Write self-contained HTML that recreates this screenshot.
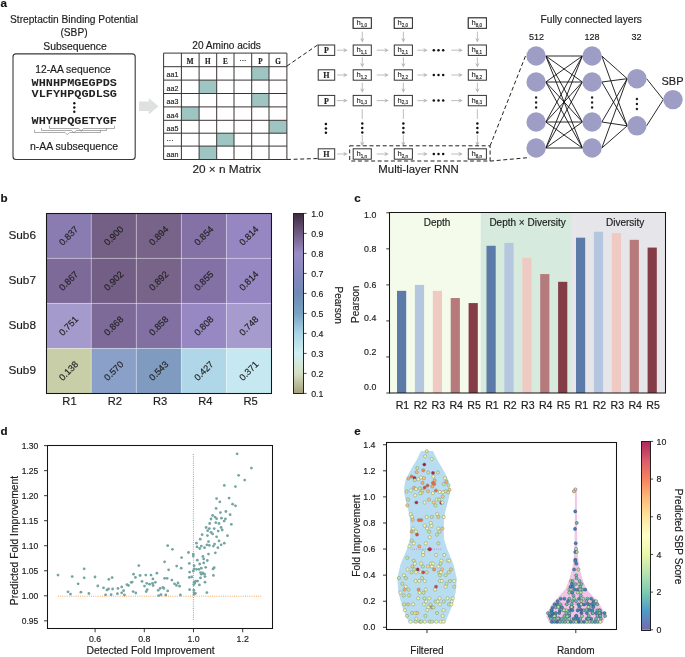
<!DOCTYPE html>
<html><head><meta charset="utf-8"><style>
html,body{margin:0;padding:0;background:#fff;}
svg{display:block;will-change:transform;}
text{stroke:#222;stroke-width:0.16px;}

</style></head><body>
<svg width="685" height="657" viewBox="0 0 685 657">
<rect x="0" y="0" width="685" height="657" fill="#ffffff"/>
<text x="0.60" y="6.80" font-family="Liberation Sans, sans-serif" font-size="11.6" text-anchor="start" fill="#111" font-weight="bold" >a</text>
<text x="0.60" y="201.60" font-family="Liberation Sans, sans-serif" font-size="11.6" text-anchor="start" fill="#111" font-weight="bold" >b</text>
<text x="354.20" y="201.80" font-family="Liberation Sans, sans-serif" font-size="11.6" text-anchor="start" fill="#111" font-weight="bold" >c</text>
<text x="0.60" y="434.90" font-family="Liberation Sans, sans-serif" font-size="11.6" text-anchor="start" fill="#111" font-weight="bold" >d</text>
<text x="354.20" y="435.10" font-family="Liberation Sans, sans-serif" font-size="11.6" text-anchor="start" fill="#111" font-weight="bold" >e</text>
<text x="74.00" y="22.80" font-family="Liberation Sans, sans-serif" font-size="10.2" text-anchor="middle" fill="#1a1a1a" font-weight="normal" >Streptactin Binding Potential</text>
<text x="74.00" y="35.60" font-family="Liberation Sans, sans-serif" font-size="10.2" text-anchor="middle" fill="#1a1a1a" font-weight="normal" >(SBP)</text>
<text x="75.00" y="49.70" font-family="Liberation Sans, sans-serif" font-size="10.4" text-anchor="middle" fill="#1a1a1a" font-weight="normal" >Subsequence</text>
<rect x="13" y="53.9" width="122.2" height="105.6" rx="3" ry="3" fill="none" stroke="#3a3a3a" stroke-width="1.1"/>
<text x="73.00" y="72.50" font-family="Liberation Sans, sans-serif" font-size="10.3" text-anchor="middle" fill="#1a1a1a" font-weight="normal" >12-AA sequence</text>
<text x="74.3" y="85.9" font-family="Liberation Mono, monospace" font-size="11.6" font-weight="bold" text-anchor="middle" fill="#222" style="stroke:none" textLength="85.4" lengthAdjust="spacingAndGlyphs">WHNHPMGEGPDS</text>
<text x="74.3" y="96.5" font-family="Liberation Mono, monospace" font-size="11.6" font-weight="bold" text-anchor="middle" fill="#222" style="stroke:none" textLength="85.4" lengthAdjust="spacingAndGlyphs">VLFYHPQGDLSG</text>
<text x="74.3" y="123.8" font-family="Liberation Mono, monospace" font-size="11.6" font-weight="bold" text-anchor="middle" fill="#222" style="stroke:none" textLength="85.4" lengthAdjust="spacingAndGlyphs">WHYHPQGETYGF</text>
<circle cx="74.30" cy="103.30" r="1.20" fill="#111" stroke="none" stroke-width="0" />
<circle cx="74.30" cy="107.50" r="1.20" fill="#111" stroke="none" stroke-width="0" />
<circle cx="74.30" cy="111.70" r="1.20" fill="#111" stroke="none" stroke-width="0" />
<path d="M34.5,129.8 V132.5 H65.1 L67.3,134.8 L69.5,132.5 H100.5 V129.8" fill="none" stroke="#8a8a8a" stroke-width="0.7"/>
<path d="M41.5,128.0 V130.5 H71.7 L73.9,133.1 L76.10000000000001,130.5 H106.5 V128.0" fill="none" stroke="#8a8a8a" stroke-width="0.7"/>
<path d="M49.5,125.8 V128.5 H79.0 L81.2,131.3 L83.4,128.5 H114.5 V125.8" fill="none" stroke="#8a8a8a" stroke-width="0.7"/>
<text x="74.00" y="149.50" font-family="Liberation Sans, sans-serif" font-size="10.5" text-anchor="middle" fill="#1a1a1a" font-weight="normal" >n-AA subsequence</text>
<polygon points="139,101.4 148.8,101.4 148.8,98.0 158.5,106.2 148.8,114.4 148.8,110.9 139,110.9" fill="#dfe1e0"/>
<text x="226.60" y="48.60" font-family="Liberation Sans, sans-serif" font-size="10.1" text-anchor="middle" fill="#1a1a1a" font-weight="normal" >20 Amino acids</text>
<rect x="251.70" y="66.70" width="17.30" height="13.40" fill="#9ec5c2" stroke="none" stroke-width="1" />
<rect x="199.10" y="80.10" width="17.60" height="13.40" fill="#9ec5c2" stroke="none" stroke-width="1" />
<rect x="251.70" y="93.50" width="17.30" height="13.40" fill="#9ec5c2" stroke="none" stroke-width="1" />
<rect x="181.40" y="106.90" width="17.70" height="13.40" fill="#9ec5c2" stroke="none" stroke-width="1" />
<rect x="269.00" y="120.30" width="17.90" height="12.90" fill="#9ec5c2" stroke="none" stroke-width="1" />
<rect x="216.70" y="133.20" width="17.30" height="12.90" fill="#9ec5c2" stroke="none" stroke-width="1" />
<rect x="199.10" y="146.10" width="17.60" height="13.40" fill="#9ec5c2" stroke="none" stroke-width="1" />
<line x1="163.60" y1="53.10" x2="163.60" y2="159.50" stroke="#3b3434" stroke-width="1.0" />
<line x1="181.40" y1="53.10" x2="181.40" y2="159.50" stroke="#3b3434" stroke-width="1.0" />
<line x1="199.10" y1="53.10" x2="199.10" y2="159.50" stroke="#3b3434" stroke-width="1.0" />
<line x1="216.70" y1="53.10" x2="216.70" y2="159.50" stroke="#3b3434" stroke-width="1.0" />
<line x1="234.00" y1="53.10" x2="234.00" y2="159.50" stroke="#3b3434" stroke-width="1.0" />
<line x1="251.70" y1="53.10" x2="251.70" y2="159.50" stroke="#3b3434" stroke-width="1.0" />
<line x1="269.00" y1="53.10" x2="269.00" y2="159.50" stroke="#3b3434" stroke-width="1.0" />
<line x1="286.90" y1="53.10" x2="286.90" y2="159.50" stroke="#3b3434" stroke-width="1.0" />
<line x1="163.60" y1="53.10" x2="286.90" y2="53.10" stroke="#3b3434" stroke-width="1.0" />
<line x1="163.60" y1="66.70" x2="286.90" y2="66.70" stroke="#3b3434" stroke-width="1.0" />
<line x1="163.60" y1="80.10" x2="286.90" y2="80.10" stroke="#3b3434" stroke-width="1.0" />
<line x1="163.60" y1="93.50" x2="286.90" y2="93.50" stroke="#3b3434" stroke-width="1.0" />
<line x1="163.60" y1="106.90" x2="286.90" y2="106.90" stroke="#3b3434" stroke-width="1.0" />
<line x1="163.60" y1="120.30" x2="286.90" y2="120.30" stroke="#3b3434" stroke-width="1.0" />
<line x1="163.60" y1="133.20" x2="286.90" y2="133.20" stroke="#3b3434" stroke-width="1.0" />
<line x1="163.60" y1="146.10" x2="286.90" y2="146.10" stroke="#3b3434" stroke-width="1.0" />
<line x1="163.60" y1="159.50" x2="286.90" y2="159.50" stroke="#3b3434" stroke-width="1.0" />
<text x="190.25" y="63.6" font-family="Liberation Serif, serif" font-size="7.2" font-weight="bold" text-anchor="middle" fill="#222">M</text>
<text x="207.90" y="63.6" font-family="Liberation Serif, serif" font-size="7.2" font-weight="bold" text-anchor="middle" fill="#222">H</text>
<text x="225.35" y="63.6" font-family="Liberation Serif, serif" font-size="7.2" font-weight="bold" text-anchor="middle" fill="#222">E</text>
<text x="242.85" y="62.60" font-family="Liberation Sans, sans-serif" font-size="7" text-anchor="middle" fill="#333" font-weight="normal" >···</text>
<text x="260.35" y="63.6" font-family="Liberation Serif, serif" font-size="7.2" font-weight="bold" text-anchor="middle" fill="#222">P</text>
<text x="277.95" y="63.6" font-family="Liberation Serif, serif" font-size="7.2" font-weight="bold" text-anchor="middle" fill="#222">G</text>
<text x="166.50" y="77.40" font-family="Liberation Sans, sans-serif" font-size="7.1" text-anchor="start" fill="#222" font-weight="normal" >aa1</text>
<text x="166.50" y="90.80" font-family="Liberation Sans, sans-serif" font-size="7.1" text-anchor="start" fill="#222" font-weight="normal" >aa2</text>
<text x="166.50" y="104.20" font-family="Liberation Sans, sans-serif" font-size="7.1" text-anchor="start" fill="#222" font-weight="normal" >aa3</text>
<text x="166.50" y="117.60" font-family="Liberation Sans, sans-serif" font-size="7.1" text-anchor="start" fill="#222" font-weight="normal" >aa4</text>
<text x="166.50" y="130.50" font-family="Liberation Sans, sans-serif" font-size="7.1" text-anchor="start" fill="#222" font-weight="normal" >aa5</text>
<text x="166.50" y="143.40" font-family="Liberation Sans, sans-serif" font-size="7.1" text-anchor="start" fill="#222" font-weight="normal" >···</text>
<text x="166.50" y="156.80" font-family="Liberation Sans, sans-serif" font-size="7.1" text-anchor="start" fill="#222" font-weight="normal" >aan</text>
<text x="226.70" y="173.40" font-family="Liberation Sans, sans-serif" font-size="11.8" text-anchor="middle" fill="#1a1a1a" font-weight="normal" >20 × n Matrix</text>
<line x1="287.00" y1="66.00" x2="317.50" y2="45.00" stroke="#222" stroke-width="1" stroke-dasharray="4,2.6"/>
<line x1="287.00" y1="159.50" x2="318.50" y2="158.50" stroke="#222" stroke-width="1" stroke-dasharray="4,2.6"/>
<rect x="318.20" y="45.00" width="16.50" height="10.40" fill="white" stroke="#333" stroke-width="1" />
<text x="326.45" y="53.20" font-family="Liberation Serif, serif" font-size="8" font-weight="bold" text-anchor="middle" fill="#222">P</text>
<line x1="337.00" y1="50.20" x2="344.70" y2="50.20" stroke="#b5b5b5" stroke-width="0.9" />
<polygon points="347.7,50.2 343.2,48.0 344.7,50.2 343.2,52.400000000000006" fill="#b5b5b5"/>
<line x1="376.80" y1="50.20" x2="385.80" y2="50.20" stroke="#b5b5b5" stroke-width="0.9" />
<polygon points="388.8,50.2 384.3,48.0 385.8,50.2 384.3,52.400000000000006" fill="#b5b5b5"/>
<line x1="417.40" y1="50.20" x2="424.70" y2="50.20" stroke="#b5b5b5" stroke-width="0.9" />
<polygon points="427.7,50.2 423.2,48.0 424.7,50.2 423.2,52.400000000000006" fill="#b5b5b5"/>
<line x1="451.30" y1="50.20" x2="459.80" y2="50.20" stroke="#b5b5b5" stroke-width="0.9" />
<polygon points="462.8,50.2 458.3,48.0 459.8,50.2 458.3,52.400000000000006" fill="#b5b5b5"/>
<circle cx="433.80" cy="50.20" r="1.25" fill="#111" stroke="none" stroke-width="0" />
<circle cx="438.50" cy="50.20" r="1.25" fill="#111" stroke="none" stroke-width="0" />
<circle cx="443.20" cy="50.20" r="1.25" fill="#111" stroke="none" stroke-width="0" />
<rect x="318.20" y="69.80" width="16.50" height="10.40" fill="white" stroke="#333" stroke-width="1" />
<text x="326.45" y="78.00" font-family="Liberation Serif, serif" font-size="8" font-weight="bold" text-anchor="middle" fill="#222">H</text>
<line x1="337.00" y1="75.00" x2="344.70" y2="75.00" stroke="#b5b5b5" stroke-width="0.9" />
<polygon points="347.7,75.0 343.2,72.8 344.7,75.0 343.2,77.2" fill="#b5b5b5"/>
<line x1="376.80" y1="75.00" x2="385.80" y2="75.00" stroke="#b5b5b5" stroke-width="0.9" />
<polygon points="388.8,75.0 384.3,72.8 385.8,75.0 384.3,77.2" fill="#b5b5b5"/>
<line x1="417.40" y1="75.00" x2="424.70" y2="75.00" stroke="#b5b5b5" stroke-width="0.9" />
<polygon points="427.7,75.0 423.2,72.8 424.7,75.0 423.2,77.2" fill="#b5b5b5"/>
<line x1="451.30" y1="75.00" x2="459.80" y2="75.00" stroke="#b5b5b5" stroke-width="0.9" />
<polygon points="462.8,75.0 458.3,72.8 459.8,75.0 458.3,77.2" fill="#b5b5b5"/>
<circle cx="433.80" cy="75.00" r="1.25" fill="#111" stroke="none" stroke-width="0" />
<circle cx="438.50" cy="75.00" r="1.25" fill="#111" stroke="none" stroke-width="0" />
<circle cx="443.20" cy="75.00" r="1.25" fill="#111" stroke="none" stroke-width="0" />
<rect x="318.20" y="95.40" width="16.50" height="10.40" fill="white" stroke="#333" stroke-width="1" />
<text x="326.45" y="103.60" font-family="Liberation Serif, serif" font-size="8" font-weight="bold" text-anchor="middle" fill="#222">P</text>
<line x1="337.00" y1="100.60" x2="344.70" y2="100.60" stroke="#b5b5b5" stroke-width="0.9" />
<polygon points="347.7,100.60000000000001 343.2,98.4 344.7,100.60000000000001 343.2,102.80000000000001" fill="#b5b5b5"/>
<line x1="376.80" y1="100.60" x2="385.80" y2="100.60" stroke="#b5b5b5" stroke-width="0.9" />
<polygon points="388.8,100.60000000000001 384.3,98.4 385.8,100.60000000000001 384.3,102.80000000000001" fill="#b5b5b5"/>
<line x1="417.40" y1="100.60" x2="424.70" y2="100.60" stroke="#b5b5b5" stroke-width="0.9" />
<polygon points="427.7,100.60000000000001 423.2,98.4 424.7,100.60000000000001 423.2,102.80000000000001" fill="#b5b5b5"/>
<line x1="451.30" y1="100.60" x2="459.80" y2="100.60" stroke="#b5b5b5" stroke-width="0.9" />
<polygon points="462.8,100.60000000000001 458.3,98.4 459.8,100.60000000000001 458.3,102.80000000000001" fill="#b5b5b5"/>
<circle cx="433.80" cy="100.60" r="1.25" fill="#111" stroke="none" stroke-width="0" />
<circle cx="438.50" cy="100.60" r="1.25" fill="#111" stroke="none" stroke-width="0" />
<circle cx="443.20" cy="100.60" r="1.25" fill="#111" stroke="none" stroke-width="0" />
<rect x="318.20" y="148.80" width="16.50" height="10.40" fill="white" stroke="#333" stroke-width="1" />
<text x="326.45" y="157.00" font-family="Liberation Serif, serif" font-size="8" font-weight="bold" text-anchor="middle" fill="#222">H</text>
<line x1="337.00" y1="154.00" x2="344.70" y2="154.00" stroke="#b5b5b5" stroke-width="0.9" />
<polygon points="347.7,154.0 343.2,151.8 344.7,154.0 343.2,156.2" fill="#b5b5b5"/>
<line x1="376.80" y1="154.00" x2="385.80" y2="154.00" stroke="#b5b5b5" stroke-width="0.9" />
<polygon points="388.8,154.0 384.3,151.8 385.8,154.0 384.3,156.2" fill="#b5b5b5"/>
<line x1="417.40" y1="154.00" x2="424.70" y2="154.00" stroke="#b5b5b5" stroke-width="0.9" />
<polygon points="427.7,154.0 423.2,151.8 424.7,154.0 423.2,156.2" fill="#b5b5b5"/>
<line x1="451.30" y1="154.00" x2="459.80" y2="154.00" stroke="#b5b5b5" stroke-width="0.9" />
<polygon points="462.8,154.0 458.3,151.8 459.8,154.0 458.3,156.2" fill="#b5b5b5"/>
<circle cx="433.80" cy="154.00" r="1.25" fill="#111" stroke="none" stroke-width="0" />
<circle cx="438.50" cy="154.00" r="1.25" fill="#111" stroke="none" stroke-width="0" />
<circle cx="443.20" cy="154.00" r="1.25" fill="#111" stroke="none" stroke-width="0" />
<rect x="353.20" y="17.90" width="18.10" height="10.40" fill="white" stroke="#333" stroke-width="1" />
<line x1="362.25" y1="31.70" x2="362.25" y2="39.60" stroke="#b5b5b5" stroke-width="0.9" />
<polygon points="362.25,42.6 360.05,38.1 362.25,39.6 364.45,38.1" fill="#b5b5b5"/>
<line x1="362.25" y1="57.30" x2="362.25" y2="64.40" stroke="#b5b5b5" stroke-width="0.9" />
<polygon points="362.25,67.4 360.05,62.900000000000006 362.25,64.4 364.45,62.900000000000006" fill="#b5b5b5"/>
<line x1="362.25" y1="82.60" x2="362.25" y2="89.80" stroke="#b5b5b5" stroke-width="0.9" />
<polygon points="362.25,92.8 360.05,88.3 362.25,89.8 364.45,88.3" fill="#b5b5b5"/>
<line x1="362.25" y1="109.20" x2="362.25" y2="143.20" stroke="#b5b5b5" stroke-width="0.9" />
<polygon points="362.25,146.2 360.05,141.7 362.25,143.2 364.45,141.7" fill="#b5b5b5"/>
<rect x="359.75" y="119.00" width="5.00" height="16.00" fill="white" stroke="none" stroke-width="1" />
<circle cx="362.25" cy="123.60" r="1.25" fill="#111" stroke="none" stroke-width="0" />
<circle cx="362.25" cy="128.10" r="1.25" fill="#111" stroke="none" stroke-width="0" />
<circle cx="362.25" cy="132.60" r="1.25" fill="#111" stroke="none" stroke-width="0" />
<rect x="353.20" y="17.90" width="18.10" height="10.40" fill="white" stroke="#333" stroke-width="1" />
<text x="356.40" y="25.30" font-family="Liberation Sans, sans-serif" font-size="7.6" fill="#333">h<tspan font-size="4.6" dy="1.6">1,0</tspan></text>
<rect x="353.20" y="45.00" width="18.10" height="10.40" fill="white" stroke="#333" stroke-width="1" />
<text x="356.40" y="52.40" font-family="Liberation Sans, sans-serif" font-size="7.6" fill="#333">h<tspan font-size="4.6" dy="1.6">1,1</tspan></text>
<rect x="353.20" y="69.80" width="18.10" height="10.40" fill="white" stroke="#333" stroke-width="1" />
<text x="356.40" y="77.20" font-family="Liberation Sans, sans-serif" font-size="7.6" fill="#333">h<tspan font-size="4.6" dy="1.6">1,2</tspan></text>
<rect x="353.20" y="95.40" width="18.10" height="10.40" fill="white" stroke="#333" stroke-width="1" />
<text x="356.40" y="102.80" font-family="Liberation Sans, sans-serif" font-size="7.6" fill="#333">h<tspan font-size="4.6" dy="1.6">1,3</tspan></text>
<rect x="353.20" y="148.80" width="18.10" height="10.40" fill="white" stroke="#333" stroke-width="1" />
<text x="356.40" y="156.20" font-family="Liberation Sans, sans-serif" font-size="7.6" fill="#333">h<tspan font-size="4.6" dy="1.6">1,n</tspan></text>
<rect x="394.30" y="17.90" width="18.10" height="10.40" fill="white" stroke="#333" stroke-width="1" />
<line x1="403.35" y1="31.70" x2="403.35" y2="39.60" stroke="#b5b5b5" stroke-width="0.9" />
<polygon points="403.35,42.6 401.15000000000003,38.1 403.35,39.6 405.55,38.1" fill="#b5b5b5"/>
<line x1="403.35" y1="57.30" x2="403.35" y2="64.40" stroke="#b5b5b5" stroke-width="0.9" />
<polygon points="403.35,67.4 401.15000000000003,62.900000000000006 403.35,64.4 405.55,62.900000000000006" fill="#b5b5b5"/>
<line x1="403.35" y1="82.60" x2="403.35" y2="89.80" stroke="#b5b5b5" stroke-width="0.9" />
<polygon points="403.35,92.8 401.15000000000003,88.3 403.35,89.8 405.55,88.3" fill="#b5b5b5"/>
<line x1="403.35" y1="109.20" x2="403.35" y2="143.20" stroke="#b5b5b5" stroke-width="0.9" />
<polygon points="403.35,146.2 401.15000000000003,141.7 403.35,143.2 405.55,141.7" fill="#b5b5b5"/>
<rect x="400.85" y="119.00" width="5.00" height="16.00" fill="white" stroke="none" stroke-width="1" />
<circle cx="403.35" cy="123.60" r="1.25" fill="#111" stroke="none" stroke-width="0" />
<circle cx="403.35" cy="128.10" r="1.25" fill="#111" stroke="none" stroke-width="0" />
<circle cx="403.35" cy="132.60" r="1.25" fill="#111" stroke="none" stroke-width="0" />
<rect x="394.30" y="17.90" width="18.10" height="10.40" fill="white" stroke="#333" stroke-width="1" />
<text x="397.50" y="25.30" font-family="Liberation Sans, sans-serif" font-size="7.6" fill="#333">h<tspan font-size="4.6" dy="1.6">2,0</tspan></text>
<rect x="394.30" y="45.00" width="18.10" height="10.40" fill="white" stroke="#333" stroke-width="1" />
<text x="397.50" y="52.40" font-family="Liberation Sans, sans-serif" font-size="7.6" fill="#333">h<tspan font-size="4.6" dy="1.6">2,1</tspan></text>
<rect x="394.30" y="69.80" width="18.10" height="10.40" fill="white" stroke="#333" stroke-width="1" />
<text x="397.50" y="77.20" font-family="Liberation Sans, sans-serif" font-size="7.6" fill="#333">h<tspan font-size="4.6" dy="1.6">2,2</tspan></text>
<rect x="394.30" y="95.40" width="18.10" height="10.40" fill="white" stroke="#333" stroke-width="1" />
<text x="397.50" y="102.80" font-family="Liberation Sans, sans-serif" font-size="7.6" fill="#333">h<tspan font-size="4.6" dy="1.6">2,3</tspan></text>
<rect x="394.30" y="148.80" width="18.10" height="10.40" fill="white" stroke="#333" stroke-width="1" />
<text x="397.50" y="156.20" font-family="Liberation Sans, sans-serif" font-size="7.6" fill="#333">h<tspan font-size="4.6" dy="1.6">2,n</tspan></text>
<rect x="468.30" y="17.90" width="18.10" height="10.40" fill="white" stroke="#333" stroke-width="1" />
<line x1="477.35" y1="31.70" x2="477.35" y2="39.60" stroke="#b5b5b5" stroke-width="0.9" />
<polygon points="477.35,42.6 475.15000000000003,38.1 477.35,39.6 479.55,38.1" fill="#b5b5b5"/>
<line x1="477.35" y1="57.30" x2="477.35" y2="64.40" stroke="#b5b5b5" stroke-width="0.9" />
<polygon points="477.35,67.4 475.15000000000003,62.900000000000006 477.35,64.4 479.55,62.900000000000006" fill="#b5b5b5"/>
<line x1="477.35" y1="82.60" x2="477.35" y2="89.80" stroke="#b5b5b5" stroke-width="0.9" />
<polygon points="477.35,92.8 475.15000000000003,88.3 477.35,89.8 479.55,88.3" fill="#b5b5b5"/>
<line x1="477.35" y1="109.20" x2="477.35" y2="143.20" stroke="#b5b5b5" stroke-width="0.9" />
<polygon points="477.35,146.2 475.15000000000003,141.7 477.35,143.2 479.55,141.7" fill="#b5b5b5"/>
<rect x="474.85" y="119.00" width="5.00" height="16.00" fill="white" stroke="none" stroke-width="1" />
<circle cx="477.35" cy="123.60" r="1.25" fill="#111" stroke="none" stroke-width="0" />
<circle cx="477.35" cy="128.10" r="1.25" fill="#111" stroke="none" stroke-width="0" />
<circle cx="477.35" cy="132.60" r="1.25" fill="#111" stroke="none" stroke-width="0" />
<rect x="468.30" y="17.90" width="18.10" height="10.40" fill="white" stroke="#333" stroke-width="1" />
<text x="471.50" y="25.30" font-family="Liberation Sans, sans-serif" font-size="7.6" fill="#333">h<tspan font-size="4.6" dy="1.6">8,0</tspan></text>
<rect x="468.30" y="45.00" width="18.10" height="10.40" fill="white" stroke="#333" stroke-width="1" />
<text x="471.50" y="52.40" font-family="Liberation Sans, sans-serif" font-size="7.6" fill="#333">h<tspan font-size="4.6" dy="1.6">8,1</tspan></text>
<rect x="468.30" y="69.80" width="18.10" height="10.40" fill="white" stroke="#333" stroke-width="1" />
<text x="471.50" y="77.20" font-family="Liberation Sans, sans-serif" font-size="7.6" fill="#333">h<tspan font-size="4.6" dy="1.6">8,2</tspan></text>
<rect x="468.30" y="95.40" width="18.10" height="10.40" fill="white" stroke="#333" stroke-width="1" />
<text x="471.50" y="102.80" font-family="Liberation Sans, sans-serif" font-size="7.6" fill="#333">h<tspan font-size="4.6" dy="1.6">8,3</tspan></text>
<rect x="468.30" y="148.80" width="18.10" height="10.40" fill="white" stroke="#333" stroke-width="1" />
<text x="471.50" y="156.20" font-family="Liberation Sans, sans-serif" font-size="7.6" fill="#333">h<tspan font-size="4.6" dy="1.6">8,n</tspan></text>
<circle cx="325.90" cy="124.00" r="1.25" fill="#111" stroke="none" stroke-width="0" />
<circle cx="325.90" cy="128.40" r="1.25" fill="#111" stroke="none" stroke-width="0" />
<circle cx="325.90" cy="132.80" r="1.25" fill="#111" stroke="none" stroke-width="0" />
<rect x="349.7" y="145.8" width="140.4" height="15.2" fill="none" stroke="#222" stroke-width="1" stroke-dasharray="4,2.6"/>
<text x="418.50" y="172.60" font-family="Liberation Sans, sans-serif" font-size="11.4" text-anchor="middle" fill="#1a1a1a" font-weight="normal" >Multi-layer RNN</text>
<line x1="490.10" y1="145.80" x2="526.50" y2="53.50" stroke="#222" stroke-width="1" stroke-dasharray="4,2.6"/>
<line x1="490.10" y1="161.10" x2="529.70" y2="157.50" stroke="#222" stroke-width="1" stroke-dasharray="4,2.6"/>
<line x1="545.80" y1="56.00" x2="582.40" y2="56.00" stroke="#111111" stroke-width="0.9" />
<line x1="545.80" y1="56.00" x2="582.40" y2="82.00" stroke="#111111" stroke-width="0.9" />
<line x1="545.80" y1="56.00" x2="582.40" y2="122.00" stroke="#111111" stroke-width="0.9" />
<line x1="545.80" y1="56.00" x2="582.40" y2="148.00" stroke="#111111" stroke-width="0.9" />
<line x1="545.80" y1="82.00" x2="582.40" y2="56.00" stroke="#111111" stroke-width="0.9" />
<line x1="545.80" y1="82.00" x2="582.40" y2="82.00" stroke="#111111" stroke-width="0.9" />
<line x1="545.80" y1="82.00" x2="582.40" y2="122.00" stroke="#111111" stroke-width="0.9" />
<line x1="545.80" y1="82.00" x2="582.40" y2="148.00" stroke="#111111" stroke-width="0.9" />
<line x1="545.80" y1="122.00" x2="582.40" y2="56.00" stroke="#111111" stroke-width="0.9" />
<line x1="545.80" y1="122.00" x2="582.40" y2="82.00" stroke="#111111" stroke-width="0.9" />
<line x1="545.80" y1="122.00" x2="582.40" y2="122.00" stroke="#111111" stroke-width="0.9" />
<line x1="545.80" y1="122.00" x2="582.40" y2="148.00" stroke="#111111" stroke-width="0.9" />
<line x1="545.80" y1="148.00" x2="582.40" y2="56.00" stroke="#111111" stroke-width="0.9" />
<line x1="545.80" y1="148.00" x2="582.40" y2="82.00" stroke="#111111" stroke-width="0.9" />
<line x1="545.80" y1="148.00" x2="582.40" y2="122.00" stroke="#111111" stroke-width="0.9" />
<line x1="545.80" y1="148.00" x2="582.40" y2="148.00" stroke="#111111" stroke-width="0.9" />
<line x1="601.80" y1="56.00" x2="627.20" y2="78.70" stroke="#111111" stroke-width="0.9" />
<line x1="601.80" y1="56.00" x2="627.20" y2="125.80" stroke="#111111" stroke-width="0.9" />
<line x1="601.80" y1="82.00" x2="627.20" y2="78.70" stroke="#111111" stroke-width="0.9" />
<line x1="601.80" y1="82.00" x2="627.20" y2="125.80" stroke="#111111" stroke-width="0.9" />
<line x1="601.80" y1="122.00" x2="627.20" y2="78.70" stroke="#111111" stroke-width="0.9" />
<line x1="601.80" y1="122.00" x2="627.20" y2="125.80" stroke="#111111" stroke-width="0.9" />
<line x1="601.80" y1="148.00" x2="627.20" y2="78.70" stroke="#111111" stroke-width="0.9" />
<line x1="601.80" y1="148.00" x2="627.20" y2="125.80" stroke="#111111" stroke-width="0.9" />
<line x1="646.60" y1="78.70" x2="663.30" y2="99.60" stroke="#111111" stroke-width="0.9" />
<line x1="646.60" y1="125.80" x2="663.30" y2="99.60" stroke="#111111" stroke-width="0.9" />
<circle cx="536.10" cy="56.00" r="9.70" fill="#9e9dc5" stroke="none" stroke-width="0" />
<circle cx="592.10" cy="56.00" r="9.70" fill="#9e9dc5" stroke="none" stroke-width="0" />
<circle cx="536.10" cy="82.00" r="9.70" fill="#9e9dc5" stroke="none" stroke-width="0" />
<circle cx="592.10" cy="82.00" r="9.70" fill="#9e9dc5" stroke="none" stroke-width="0" />
<circle cx="536.10" cy="122.00" r="9.70" fill="#9e9dc5" stroke="none" stroke-width="0" />
<circle cx="592.10" cy="122.00" r="9.70" fill="#9e9dc5" stroke="none" stroke-width="0" />
<circle cx="536.10" cy="148.00" r="9.70" fill="#9e9dc5" stroke="none" stroke-width="0" />
<circle cx="592.10" cy="148.00" r="9.70" fill="#9e9dc5" stroke="none" stroke-width="0" />
<circle cx="636.90" cy="78.70" r="9.70" fill="#9e9dc5" stroke="none" stroke-width="0" />
<circle cx="636.90" cy="125.80" r="9.70" fill="#9e9dc5" stroke="none" stroke-width="0" />
<circle cx="673.00" cy="99.60" r="9.70" fill="#9e9dc5" stroke="none" stroke-width="0" />
<circle cx="536.10" cy="97.50" r="1.20" fill="#222" stroke="none" stroke-width="0" />
<circle cx="536.10" cy="102.50" r="1.20" fill="#222" stroke="none" stroke-width="0" />
<circle cx="536.10" cy="107.50" r="1.20" fill="#222" stroke="none" stroke-width="0" />
<circle cx="592.10" cy="97.50" r="1.20" fill="#222" stroke="none" stroke-width="0" />
<circle cx="592.10" cy="102.50" r="1.20" fill="#222" stroke="none" stroke-width="0" />
<circle cx="592.10" cy="107.50" r="1.20" fill="#222" stroke="none" stroke-width="0" />
<circle cx="636.90" cy="99.00" r="1.20" fill="#222" stroke="none" stroke-width="0" />
<circle cx="636.90" cy="104.00" r="1.20" fill="#222" stroke="none" stroke-width="0" />
<circle cx="636.90" cy="109.00" r="1.20" fill="#222" stroke="none" stroke-width="0" />
<text x="591.20" y="23.20" font-family="Liberation Sans, sans-serif" font-size="10.2" text-anchor="middle" fill="#1a1a1a" font-weight="normal" >Fully connected layers</text>
<text x="536.40" y="40.00" font-family="Liberation Sans, sans-serif" font-size="9" text-anchor="middle" fill="#1a1a1a" font-weight="normal" >512</text>
<text x="592.00" y="40.00" font-family="Liberation Sans, sans-serif" font-size="9" text-anchor="middle" fill="#1a1a1a" font-weight="normal" >128</text>
<text x="636.50" y="40.00" font-family="Liberation Sans, sans-serif" font-size="9" text-anchor="middle" fill="#1a1a1a" font-weight="normal" >32</text>
<text x="672.50" y="85.40" font-family="Liberation Sans, sans-serif" font-size="11" text-anchor="middle" fill="#1a1a1a" font-weight="normal" >SBP</text>
<rect x="46.20" y="213.30" width="45.06" height="45.05" fill="#8a7bb1" stroke="none" stroke-width="1" />
<rect x="91.26" y="213.30" width="45.06" height="45.05" fill="#745f85" stroke="none" stroke-width="1" />
<rect x="136.32" y="213.30" width="45.06" height="45.05" fill="#786489" stroke="none" stroke-width="1" />
<rect x="181.38" y="213.30" width="45.06" height="45.05" fill="#8471a6" stroke="none" stroke-width="1" />
<rect x="226.44" y="213.30" width="45.06" height="45.05" fill="#9686c1" stroke="none" stroke-width="1" />
<rect x="46.20" y="258.35" width="45.06" height="45.05" fill="#7d6a99" stroke="none" stroke-width="1" />
<rect x="91.26" y="258.35" width="45.06" height="45.05" fill="#735e85" stroke="none" stroke-width="1" />
<rect x="136.32" y="258.35" width="45.06" height="45.05" fill="#786489" stroke="none" stroke-width="1" />
<rect x="181.38" y="258.35" width="45.06" height="45.05" fill="#8370a5" stroke="none" stroke-width="1" />
<rect x="226.44" y="258.35" width="45.06" height="45.05" fill="#9686c1" stroke="none" stroke-width="1" />
<rect x="46.20" y="303.40" width="45.06" height="45.05" fill="#a49acc" stroke="none" stroke-width="1" />
<rect x="91.26" y="303.40" width="45.06" height="45.05" fill="#7d6a99" stroke="none" stroke-width="1" />
<rect x="136.32" y="303.40" width="45.06" height="45.05" fill="#8270a3" stroke="none" stroke-width="1" />
<rect x="181.38" y="303.40" width="45.06" height="45.05" fill="#9787c2" stroke="none" stroke-width="1" />
<rect x="226.44" y="303.40" width="45.06" height="45.05" fill="#a59bcc" stroke="none" stroke-width="1" />
<rect x="46.20" y="348.45" width="45.06" height="45.05" fill="#c8cea8" stroke="none" stroke-width="1" />
<rect x="91.26" y="348.45" width="45.06" height="45.05" fill="#8aa0c9" stroke="none" stroke-width="1" />
<rect x="136.32" y="348.45" width="45.06" height="45.05" fill="#7f9cc0" stroke="none" stroke-width="1" />
<rect x="181.38" y="348.45" width="45.06" height="45.05" fill="#b0d7e8" stroke="none" stroke-width="1" />
<rect x="226.44" y="348.45" width="45.06" height="45.05" fill="#c5e8f1" stroke="none" stroke-width="1" />
<line x1="91.26" y1="213.30" x2="91.26" y2="393.50" stroke="#ffffff" stroke-width="0.8" stroke-opacity="0.45"/>
<line x1="136.32" y1="213.30" x2="136.32" y2="393.50" stroke="#ffffff" stroke-width="0.8" stroke-opacity="0.45"/>
<line x1="181.38" y1="213.30" x2="181.38" y2="393.50" stroke="#ffffff" stroke-width="0.8" stroke-opacity="0.45"/>
<line x1="226.44" y1="213.30" x2="226.44" y2="393.50" stroke="#ffffff" stroke-width="0.8" stroke-opacity="0.45"/>
<line x1="46.20" y1="258.35" x2="271.50" y2="258.35" stroke="#ffffff" stroke-width="0.8" stroke-opacity="0.45"/>
<line x1="46.20" y1="303.40" x2="271.50" y2="303.40" stroke="#ffffff" stroke-width="0.8" stroke-opacity="0.45"/>
<line x1="46.20" y1="348.45" x2="271.50" y2="348.45" stroke="#ffffff" stroke-width="0.8" stroke-opacity="0.45"/>
<rect x="46.50" y="213.50" width="225.00" height="180.00" fill="none" stroke="#151515" stroke-width="1.05" />
<text x="68.73" y="235.83" font-family="Liberation Sans, sans-serif" font-size="9.2" text-anchor="middle" dominant-baseline="central" fill="#222" transform="rotate(-45 68.73 235.83)">0.837</text>
<text x="113.79" y="235.83" font-family="Liberation Sans, sans-serif" font-size="9.2" text-anchor="middle" dominant-baseline="central" fill="#222" transform="rotate(-45 113.79 235.83)">0.900</text>
<text x="158.85" y="235.83" font-family="Liberation Sans, sans-serif" font-size="9.2" text-anchor="middle" dominant-baseline="central" fill="#222" transform="rotate(-45 158.85 235.83)">0.894</text>
<text x="203.91" y="235.83" font-family="Liberation Sans, sans-serif" font-size="9.2" text-anchor="middle" dominant-baseline="central" fill="#222" transform="rotate(-45 203.91 235.83)">0.854</text>
<text x="248.97" y="235.83" font-family="Liberation Sans, sans-serif" font-size="9.2" text-anchor="middle" dominant-baseline="central" fill="#222" transform="rotate(-45 248.97 235.83)">0.814</text>
<text x="68.73" y="280.88" font-family="Liberation Sans, sans-serif" font-size="9.2" text-anchor="middle" dominant-baseline="central" fill="#222" transform="rotate(-45 68.73 280.88)">0.867</text>
<text x="113.79" y="280.88" font-family="Liberation Sans, sans-serif" font-size="9.2" text-anchor="middle" dominant-baseline="central" fill="#222" transform="rotate(-45 113.79 280.88)">0.902</text>
<text x="158.85" y="280.88" font-family="Liberation Sans, sans-serif" font-size="9.2" text-anchor="middle" dominant-baseline="central" fill="#222" transform="rotate(-45 158.85 280.88)">0.892</text>
<text x="203.91" y="280.88" font-family="Liberation Sans, sans-serif" font-size="9.2" text-anchor="middle" dominant-baseline="central" fill="#222" transform="rotate(-45 203.91 280.88)">0.855</text>
<text x="248.97" y="280.88" font-family="Liberation Sans, sans-serif" font-size="9.2" text-anchor="middle" dominant-baseline="central" fill="#222" transform="rotate(-45 248.97 280.88)">0.814</text>
<text x="68.73" y="325.93" font-family="Liberation Sans, sans-serif" font-size="9.2" text-anchor="middle" dominant-baseline="central" fill="#222" transform="rotate(-45 68.73 325.93)">0.751</text>
<text x="113.79" y="325.93" font-family="Liberation Sans, sans-serif" font-size="9.2" text-anchor="middle" dominant-baseline="central" fill="#222" transform="rotate(-45 113.79 325.93)">0.868</text>
<text x="158.85" y="325.93" font-family="Liberation Sans, sans-serif" font-size="9.2" text-anchor="middle" dominant-baseline="central" fill="#222" transform="rotate(-45 158.85 325.93)">0.858</text>
<text x="203.91" y="325.93" font-family="Liberation Sans, sans-serif" font-size="9.2" text-anchor="middle" dominant-baseline="central" fill="#222" transform="rotate(-45 203.91 325.93)">0.808</text>
<text x="248.97" y="325.93" font-family="Liberation Sans, sans-serif" font-size="9.2" text-anchor="middle" dominant-baseline="central" fill="#222" transform="rotate(-45 248.97 325.93)">0.748</text>
<text x="68.73" y="370.98" font-family="Liberation Sans, sans-serif" font-size="9.2" text-anchor="middle" dominant-baseline="central" fill="#222" transform="rotate(-45 68.73 370.98)">0.138</text>
<text x="113.79" y="370.98" font-family="Liberation Sans, sans-serif" font-size="9.2" text-anchor="middle" dominant-baseline="central" fill="#222" transform="rotate(-45 113.79 370.98)">0.570</text>
<text x="158.85" y="370.98" font-family="Liberation Sans, sans-serif" font-size="9.2" text-anchor="middle" dominant-baseline="central" fill="#222" transform="rotate(-45 158.85 370.98)">0.543</text>
<text x="203.91" y="370.98" font-family="Liberation Sans, sans-serif" font-size="9.2" text-anchor="middle" dominant-baseline="central" fill="#222" transform="rotate(-45 203.91 370.98)">0.427</text>
<text x="248.97" y="370.98" font-family="Liberation Sans, sans-serif" font-size="9.2" text-anchor="middle" dominant-baseline="central" fill="#222" transform="rotate(-45 248.97 370.98)">0.371</text>
<text x="36.00" y="238.73" font-family="Liberation Sans, sans-serif" font-size="11.8" text-anchor="end" fill="#1a1a1a" font-weight="normal" >Sub6</text>
<text x="36.00" y="283.77" font-family="Liberation Sans, sans-serif" font-size="11.8" text-anchor="end" fill="#1a1a1a" font-weight="normal" >Sub7</text>
<text x="36.00" y="328.82" font-family="Liberation Sans, sans-serif" font-size="11.8" text-anchor="end" fill="#1a1a1a" font-weight="normal" >Sub8</text>
<text x="36.00" y="373.88" font-family="Liberation Sans, sans-serif" font-size="11.8" text-anchor="end" fill="#1a1a1a" font-weight="normal" >Sub9</text>
<text x="69.50" y="405.30" font-family="Liberation Sans, sans-serif" font-size="11.2" text-anchor="middle" fill="#1a1a1a" font-weight="normal" >R1</text>
<text x="114.80" y="405.30" font-family="Liberation Sans, sans-serif" font-size="11.2" text-anchor="middle" fill="#1a1a1a" font-weight="normal" >R2</text>
<text x="160.10" y="405.30" font-family="Liberation Sans, sans-serif" font-size="11.2" text-anchor="middle" fill="#1a1a1a" font-weight="normal" >R3</text>
<text x="205.40" y="405.30" font-family="Liberation Sans, sans-serif" font-size="11.2" text-anchor="middle" fill="#1a1a1a" font-weight="normal" >R4</text>
<text x="250.70" y="405.30" font-family="Liberation Sans, sans-serif" font-size="11.2" text-anchor="middle" fill="#1a1a1a" font-weight="normal" >R5</text>
<defs><linearGradient id="cb1" x1="0" y1="1" x2="0" y2="0">
<stop offset="0.0000" stop-color="#a39f78"/>
<stop offset="0.1111" stop-color="#d6dfc5"/>
<stop offset="0.2222" stop-color="#cfeff3"/>
<stop offset="0.3333" stop-color="#a9d5e5"/>
<stop offset="0.4444" stop-color="#78a2c2"/>
<stop offset="0.5556" stop-color="#6f8ab5"/>
<stop offset="0.6667" stop-color="#8688be"/>
<stop offset="0.7778" stop-color="#9a8cc4"/>
<stop offset="0.8889" stop-color="#6f5a82"/>
<stop offset="1.0000" stop-color="#3e2a3e"/>
</linearGradient>
<linearGradient id="cb2" x1="0" y1="1" x2="0" y2="0">
<stop offset="0.000" stop-color="#5e4fa2"/>
<stop offset="0.100" stop-color="#3288bd"/>
<stop offset="0.200" stop-color="#66c2a5"/>
<stop offset="0.300" stop-color="#abdda4"/>
<stop offset="0.400" stop-color="#e6f598"/>
<stop offset="0.500" stop-color="#ffffbf"/>
<stop offset="0.600" stop-color="#fee08b"/>
<stop offset="0.700" stop-color="#fdae61"/>
<stop offset="0.800" stop-color="#f46d43"/>
<stop offset="0.900" stop-color="#d53e4f"/>
<stop offset="1.000" stop-color="#9e0142"/>
</linearGradient></defs>
<rect x="293.80" y="213.40" width="9.80" height="180.00" fill="url(#cb1)" stroke="none" stroke-width="0" />
<rect x="293.50" y="213.50" width="10.00" height="180.00" fill="none" stroke="#222" stroke-width="1" />
<line x1="303.60" y1="393.40" x2="306.60" y2="393.40" stroke="#222" stroke-width="0.8" />
<text x="311.20" y="396.50" font-family="Liberation Sans, sans-serif" font-size="8.8" text-anchor="start" fill="#1a1a1a" font-weight="normal" >0.1</text>
<line x1="303.60" y1="373.40" x2="306.60" y2="373.40" stroke="#222" stroke-width="0.8" />
<text x="311.20" y="376.50" font-family="Liberation Sans, sans-serif" font-size="8.8" text-anchor="start" fill="#1a1a1a" font-weight="normal" >0.2</text>
<line x1="303.60" y1="353.40" x2="306.60" y2="353.40" stroke="#222" stroke-width="0.8" />
<text x="311.20" y="356.50" font-family="Liberation Sans, sans-serif" font-size="8.8" text-anchor="start" fill="#1a1a1a" font-weight="normal" >0.3</text>
<line x1="303.60" y1="333.40" x2="306.60" y2="333.40" stroke="#222" stroke-width="0.8" />
<text x="311.20" y="336.50" font-family="Liberation Sans, sans-serif" font-size="8.8" text-anchor="start" fill="#1a1a1a" font-weight="normal" >0.4</text>
<line x1="303.60" y1="313.40" x2="306.60" y2="313.40" stroke="#222" stroke-width="0.8" />
<text x="311.20" y="316.50" font-family="Liberation Sans, sans-serif" font-size="8.8" text-anchor="start" fill="#1a1a1a" font-weight="normal" >0.5</text>
<line x1="303.60" y1="293.40" x2="306.60" y2="293.40" stroke="#222" stroke-width="0.8" />
<text x="311.20" y="296.50" font-family="Liberation Sans, sans-serif" font-size="8.8" text-anchor="start" fill="#1a1a1a" font-weight="normal" >0.6</text>
<line x1="303.60" y1="273.40" x2="306.60" y2="273.40" stroke="#222" stroke-width="0.8" />
<text x="311.20" y="276.50" font-family="Liberation Sans, sans-serif" font-size="8.8" text-anchor="start" fill="#1a1a1a" font-weight="normal" >0.7</text>
<line x1="303.60" y1="253.40" x2="306.60" y2="253.40" stroke="#222" stroke-width="0.8" />
<text x="311.20" y="256.50" font-family="Liberation Sans, sans-serif" font-size="8.8" text-anchor="start" fill="#1a1a1a" font-weight="normal" >0.8</text>
<line x1="303.60" y1="233.40" x2="306.60" y2="233.40" stroke="#222" stroke-width="0.8" />
<text x="311.20" y="236.50" font-family="Liberation Sans, sans-serif" font-size="8.8" text-anchor="start" fill="#1a1a1a" font-weight="normal" >0.9</text>
<line x1="303.60" y1="213.40" x2="306.60" y2="213.40" stroke="#222" stroke-width="0.8" />
<text x="311.20" y="216.50" font-family="Liberation Sans, sans-serif" font-size="8.8" text-anchor="start" fill="#1a1a1a" font-weight="normal" >1.0</text>
<text x="338.5" y="305.2" font-family="Liberation Sans, sans-serif" font-size="10" text-anchor="middle" dominant-baseline="central" fill="#1a1a1a" transform="rotate(90 338.5 305.2)">Pearson</text>
<rect x="389.80" y="212.80" width="90.80" height="180.20" fill="#f5fbeb" stroke="none" stroke-width="1" />
<rect x="480.60" y="212.80" width="91.30" height="180.20" fill="#d6eadd" stroke="none" stroke-width="1" />
<rect x="571.90" y="212.80" width="93.10" height="180.20" fill="#e6e6ea" stroke="none" stroke-width="1" />
<rect x="397.00" y="290.83" width="9.20" height="102.17" fill="#5c7ba8" stroke="none" stroke-width="1" />
<rect x="414.90" y="284.88" width="9.20" height="108.12" fill="#b4c7de" stroke="none" stroke-width="1" />
<rect x="432.80" y="290.83" width="9.20" height="102.17" fill="#efcac2" stroke="none" stroke-width="1" />
<rect x="450.70" y="298.03" width="9.20" height="94.97" fill="#b67a7c" stroke="none" stroke-width="1" />
<rect x="468.60" y="303.08" width="9.20" height="89.92" fill="#843c46" stroke="none" stroke-width="1" />
<rect x="486.50" y="245.78" width="9.20" height="147.22" fill="#5c7ba8" stroke="none" stroke-width="1" />
<rect x="504.40" y="242.89" width="9.20" height="150.11" fill="#b4c7de" stroke="none" stroke-width="1" />
<rect x="522.30" y="257.85" width="9.20" height="135.15" fill="#efcac2" stroke="none" stroke-width="1" />
<rect x="540.20" y="274.07" width="9.20" height="118.93" fill="#b67a7c" stroke="none" stroke-width="1" />
<rect x="558.10" y="281.82" width="9.20" height="111.18" fill="#843c46" stroke="none" stroke-width="1" />
<rect x="576.00" y="237.67" width="9.20" height="155.33" fill="#5c7ba8" stroke="none" stroke-width="1" />
<rect x="593.90" y="231.72" width="9.20" height="161.28" fill="#b4c7de" stroke="none" stroke-width="1" />
<rect x="611.80" y="233.16" width="9.20" height="159.84" fill="#efcac2" stroke="none" stroke-width="1" />
<rect x="629.70" y="239.83" width="9.20" height="153.17" fill="#b67a7c" stroke="none" stroke-width="1" />
<rect x="647.60" y="247.58" width="9.20" height="145.42" fill="#843c46" stroke="none" stroke-width="1" />
<path d="M389.5,393 V212.5 H665.5 V393 Z" fill="none" stroke="#151515" stroke-width="1.05"/>
<line x1="386.30" y1="393.00" x2="389.80" y2="393.00" stroke="#222" stroke-width="0.9" />
<text x="376.30" y="390.00" font-family="Liberation Sans, sans-serif" font-size="8.8" text-anchor="end" fill="#1a1a1a" font-weight="normal" >0.0</text>
<line x1="386.30" y1="356.96" x2="389.80" y2="356.96" stroke="#222" stroke-width="0.9" />
<text x="376.30" y="355.40" font-family="Liberation Sans, sans-serif" font-size="8.8" text-anchor="end" fill="#1a1a1a" font-weight="normal" >0.2</text>
<line x1="386.30" y1="320.92" x2="389.80" y2="320.92" stroke="#222" stroke-width="0.9" />
<text x="376.30" y="321.20" font-family="Liberation Sans, sans-serif" font-size="8.8" text-anchor="end" fill="#1a1a1a" font-weight="normal" >0.4</text>
<line x1="386.30" y1="284.88" x2="389.80" y2="284.88" stroke="#222" stroke-width="0.9" />
<text x="376.30" y="287.80" font-family="Liberation Sans, sans-serif" font-size="8.8" text-anchor="end" fill="#1a1a1a" font-weight="normal" >0.6</text>
<line x1="386.30" y1="248.84" x2="389.80" y2="248.84" stroke="#222" stroke-width="0.9" />
<text x="376.30" y="252.20" font-family="Liberation Sans, sans-serif" font-size="8.8" text-anchor="end" fill="#1a1a1a" font-weight="normal" >0.8</text>
<line x1="386.30" y1="212.80" x2="389.80" y2="212.80" stroke="#222" stroke-width="0.9" />
<text x="376.30" y="218.20" font-family="Liberation Sans, sans-serif" font-size="8.8" text-anchor="end" fill="#1a1a1a" font-weight="normal" >1.0</text>
<text x="402.50" y="408.90" font-family="Liberation Sans, sans-serif" font-size="10.6" text-anchor="middle" fill="#1a1a1a" font-weight="normal" >R1</text>
<text x="420.40" y="408.90" font-family="Liberation Sans, sans-serif" font-size="10.6" text-anchor="middle" fill="#1a1a1a" font-weight="normal" >R2</text>
<text x="438.30" y="408.90" font-family="Liberation Sans, sans-serif" font-size="10.6" text-anchor="middle" fill="#1a1a1a" font-weight="normal" >R3</text>
<text x="456.20" y="408.90" font-family="Liberation Sans, sans-serif" font-size="10.6" text-anchor="middle" fill="#1a1a1a" font-weight="normal" >R4</text>
<text x="474.10" y="408.90" font-family="Liberation Sans, sans-serif" font-size="10.6" text-anchor="middle" fill="#1a1a1a" font-weight="normal" >R5</text>
<text x="492.00" y="408.90" font-family="Liberation Sans, sans-serif" font-size="10.6" text-anchor="middle" fill="#1a1a1a" font-weight="normal" >R1</text>
<text x="509.90" y="408.90" font-family="Liberation Sans, sans-serif" font-size="10.6" text-anchor="middle" fill="#1a1a1a" font-weight="normal" >R2</text>
<text x="527.80" y="408.90" font-family="Liberation Sans, sans-serif" font-size="10.6" text-anchor="middle" fill="#1a1a1a" font-weight="normal" >R3</text>
<text x="545.70" y="408.90" font-family="Liberation Sans, sans-serif" font-size="10.6" text-anchor="middle" fill="#1a1a1a" font-weight="normal" >R4</text>
<text x="563.60" y="408.90" font-family="Liberation Sans, sans-serif" font-size="10.6" text-anchor="middle" fill="#1a1a1a" font-weight="normal" >R5</text>
<text x="581.50" y="408.90" font-family="Liberation Sans, sans-serif" font-size="10.6" text-anchor="middle" fill="#1a1a1a" font-weight="normal" >R1</text>
<text x="599.40" y="408.90" font-family="Liberation Sans, sans-serif" font-size="10.6" text-anchor="middle" fill="#1a1a1a" font-weight="normal" >R2</text>
<text x="617.30" y="408.90" font-family="Liberation Sans, sans-serif" font-size="10.6" text-anchor="middle" fill="#1a1a1a" font-weight="normal" >R3</text>
<text x="635.20" y="408.90" font-family="Liberation Sans, sans-serif" font-size="10.6" text-anchor="middle" fill="#1a1a1a" font-weight="normal" >R4</text>
<text x="653.10" y="408.90" font-family="Liberation Sans, sans-serif" font-size="10.6" text-anchor="middle" fill="#1a1a1a" font-weight="normal" >R5</text>
<text x="437.10" y="226.40" font-family="Liberation Sans, sans-serif" font-size="10" text-anchor="middle" fill="#1a1a1a" font-weight="normal" >Depth</text>
<text x="527.60" y="226.40" font-family="Liberation Sans, sans-serif" font-size="10" text-anchor="middle" fill="#1a1a1a" font-weight="normal" >Depth × Diversity</text>
<text x="625.20" y="226.40" font-family="Liberation Sans, sans-serif" font-size="10" text-anchor="middle" fill="#1a1a1a" font-weight="normal" >Diversity</text>
<text x="355.5" y="304.3" font-family="Liberation Sans, sans-serif" font-size="10" text-anchor="middle" dominant-baseline="central" fill="#1a1a1a" transform="rotate(-90 355.5 304.3)">Pearson</text>
<rect x="47.50" y="445.50" width="225.00" height="183.00" fill="none" stroke="#151515" stroke-width="1.05" />
<line x1="44.00" y1="620.83" x2="47.50" y2="620.83" stroke="#222" stroke-width="0.9" />
<text x="38.30" y="623.93" font-family="Liberation Sans, sans-serif" font-size="8.5" text-anchor="end" fill="#1a1a1a" font-weight="normal" >0.95</text>
<line x1="44.00" y1="595.80" x2="47.50" y2="595.80" stroke="#222" stroke-width="0.9" />
<text x="38.30" y="598.90" font-family="Liberation Sans, sans-serif" font-size="8.5" text-anchor="end" fill="#1a1a1a" font-weight="normal" >1.00</text>
<line x1="44.00" y1="570.77" x2="47.50" y2="570.77" stroke="#222" stroke-width="0.9" />
<text x="38.30" y="573.87" font-family="Liberation Sans, sans-serif" font-size="8.5" text-anchor="end" fill="#1a1a1a" font-weight="normal" >1.05</text>
<line x1="44.00" y1="545.74" x2="47.50" y2="545.74" stroke="#222" stroke-width="0.9" />
<text x="38.30" y="548.84" font-family="Liberation Sans, sans-serif" font-size="8.5" text-anchor="end" fill="#1a1a1a" font-weight="normal" >1.10</text>
<line x1="44.00" y1="520.71" x2="47.50" y2="520.71" stroke="#222" stroke-width="0.9" />
<text x="38.30" y="523.81" font-family="Liberation Sans, sans-serif" font-size="8.5" text-anchor="end" fill="#1a1a1a" font-weight="normal" >1.15</text>
<line x1="44.00" y1="495.68" x2="47.50" y2="495.68" stroke="#222" stroke-width="0.9" />
<text x="38.30" y="498.78" font-family="Liberation Sans, sans-serif" font-size="8.5" text-anchor="end" fill="#1a1a1a" font-weight="normal" >1.20</text>
<line x1="44.00" y1="470.65" x2="47.50" y2="470.65" stroke="#222" stroke-width="0.9" />
<text x="38.30" y="473.75" font-family="Liberation Sans, sans-serif" font-size="8.5" text-anchor="end" fill="#1a1a1a" font-weight="normal" >1.25</text>
<line x1="44.00" y1="445.62" x2="47.50" y2="445.62" stroke="#222" stroke-width="0.9" />
<text x="38.30" y="448.72" font-family="Liberation Sans, sans-serif" font-size="8.5" text-anchor="end" fill="#1a1a1a" font-weight="normal" >1.30</text>
<line x1="95.10" y1="628.80" x2="95.10" y2="632.30" stroke="#222" stroke-width="0.9" />
<text x="95.10" y="641.60" font-family="Liberation Sans, sans-serif" font-size="8.8" text-anchor="middle" fill="#1a1a1a" font-weight="normal" >0.6</text>
<line x1="144.30" y1="628.80" x2="144.30" y2="632.30" stroke="#222" stroke-width="0.9" />
<text x="144.30" y="641.60" font-family="Liberation Sans, sans-serif" font-size="8.8" text-anchor="middle" fill="#1a1a1a" font-weight="normal" >0.8</text>
<line x1="193.50" y1="628.80" x2="193.50" y2="632.30" stroke="#222" stroke-width="0.9" />
<text x="193.50" y="641.60" font-family="Liberation Sans, sans-serif" font-size="8.8" text-anchor="middle" fill="#1a1a1a" font-weight="normal" >1.0</text>
<line x1="242.70" y1="628.80" x2="242.70" y2="632.30" stroke="#222" stroke-width="0.9" />
<text x="242.70" y="641.60" font-family="Liberation Sans, sans-serif" font-size="8.8" text-anchor="middle" fill="#1a1a1a" font-weight="normal" >1.2</text>
<text x="14.8" y="540.5" font-family="Liberation Sans, sans-serif" font-size="10.3" text-anchor="middle" dominant-baseline="central" fill="#1a1a1a" transform="rotate(-90 14.8 540.5)">Predicted Fold Improvement</text>
<text x="150.60" y="653.50" font-family="Liberation Sans, sans-serif" font-size="10.4" text-anchor="middle" fill="#1a1a1a" font-weight="normal" >Detected Fold Improvement</text>
<line x1="58.00" y1="596.20" x2="262.30" y2="596.20" stroke="#f4a460" stroke-width="1" stroke-dasharray="1,1.2"/>
<line x1="193.40" y1="454.00" x2="193.40" y2="620.80" stroke="#7fa3d0" stroke-width="1" stroke-dasharray="1,1.2"/>
<circle cx="237.10" cy="453.80" r="1.40" fill="#75a5a2" stroke="none" stroke-width="0" />
<circle cx="251.40" cy="468.10" r="1.40" fill="#75a5a2" stroke="none" stroke-width="0" />
<circle cx="238.60" cy="475.30" r="1.40" fill="#75a5a2" stroke="none" stroke-width="0" />
<circle cx="244.70" cy="480.10" r="1.40" fill="#75a5a2" stroke="none" stroke-width="0" />
<circle cx="224.30" cy="485.40" r="1.40" fill="#75a5a2" stroke="none" stroke-width="0" />
<circle cx="235.40" cy="486.60" r="1.40" fill="#75a5a2" stroke="none" stroke-width="0" />
<circle cx="216.60" cy="498.60" r="1.40" fill="#75a5a2" stroke="none" stroke-width="0" />
<circle cx="229.10" cy="498.10" r="1.40" fill="#75a5a2" stroke="none" stroke-width="0" />
<circle cx="219.80" cy="501.80" r="1.40" fill="#75a5a2" stroke="none" stroke-width="0" />
<circle cx="232.60" cy="504.20" r="1.40" fill="#75a5a2" stroke="none" stroke-width="0" />
<circle cx="235.50" cy="505.80" r="1.40" fill="#75a5a2" stroke="none" stroke-width="0" />
<circle cx="216.10" cy="508.40" r="1.40" fill="#75a5a2" stroke="none" stroke-width="0" />
<circle cx="225.90" cy="511.50" r="1.40" fill="#75a5a2" stroke="none" stroke-width="0" />
<circle cx="220.40" cy="512.60" r="1.40" fill="#75a5a2" stroke="none" stroke-width="0" />
<circle cx="230.10" cy="514.70" r="1.40" fill="#75a5a2" stroke="none" stroke-width="0" />
<circle cx="212.60" cy="515.50" r="1.40" fill="#75a5a2" stroke="none" stroke-width="0" />
<circle cx="215.00" cy="517.10" r="1.40" fill="#75a5a2" stroke="none" stroke-width="0" />
<circle cx="221.40" cy="518.20" r="1.40" fill="#75a5a2" stroke="none" stroke-width="0" />
<circle cx="225.40" cy="519.00" r="1.40" fill="#75a5a2" stroke="none" stroke-width="0" />
<circle cx="216.60" cy="518.70" r="1.40" fill="#75a5a2" stroke="none" stroke-width="0" />
<circle cx="211.00" cy="519.00" r="1.40" fill="#75a5a2" stroke="none" stroke-width="0" />
<circle cx="224.10" cy="521.10" r="1.40" fill="#75a5a2" stroke="none" stroke-width="0" />
<circle cx="209.70" cy="523.50" r="1.40" fill="#75a5a2" stroke="none" stroke-width="0" />
<circle cx="215.80" cy="522.70" r="1.40" fill="#75a5a2" stroke="none" stroke-width="0" />
<circle cx="219.00" cy="523.50" r="1.40" fill="#75a5a2" stroke="none" stroke-width="0" />
<circle cx="231.30" cy="524.30" r="1.40" fill="#75a5a2" stroke="none" stroke-width="0" />
<circle cx="206.10" cy="527.50" r="1.40" fill="#75a5a2" stroke="none" stroke-width="0" />
<circle cx="209.30" cy="528.60" r="1.40" fill="#75a5a2" stroke="none" stroke-width="0" />
<circle cx="214.20" cy="528.60" r="1.40" fill="#75a5a2" stroke="none" stroke-width="0" />
<circle cx="221.10" cy="527.50" r="1.40" fill="#75a5a2" stroke="none" stroke-width="0" />
<circle cx="222.20" cy="530.00" r="1.40" fill="#75a5a2" stroke="none" stroke-width="0" />
<circle cx="207.70" cy="530.70" r="1.40" fill="#75a5a2" stroke="none" stroke-width="0" />
<circle cx="218.20" cy="531.10" r="1.40" fill="#75a5a2" stroke="none" stroke-width="0" />
<circle cx="211.00" cy="532.30" r="1.40" fill="#75a5a2" stroke="none" stroke-width="0" />
<circle cx="212.60" cy="533.90" r="1.40" fill="#75a5a2" stroke="none" stroke-width="0" />
<circle cx="202.10" cy="534.70" r="1.40" fill="#75a5a2" stroke="none" stroke-width="0" />
<circle cx="207.40" cy="535.60" r="1.40" fill="#75a5a2" stroke="none" stroke-width="0" />
<circle cx="216.60" cy="536.80" r="1.40" fill="#75a5a2" stroke="none" stroke-width="0" />
<circle cx="227.50" cy="535.70" r="1.40" fill="#75a5a2" stroke="none" stroke-width="0" />
<circle cx="200.20" cy="539.20" r="1.40" fill="#75a5a2" stroke="none" stroke-width="0" />
<circle cx="208.50" cy="541.60" r="1.40" fill="#75a5a2" stroke="none" stroke-width="0" />
<circle cx="219.00" cy="540.90" r="1.40" fill="#75a5a2" stroke="none" stroke-width="0" />
<circle cx="196.50" cy="543.20" r="1.40" fill="#75a5a2" stroke="none" stroke-width="0" />
<circle cx="224.30" cy="543.20" r="1.40" fill="#75a5a2" stroke="none" stroke-width="0" />
<circle cx="197.00" cy="546.90" r="1.40" fill="#75a5a2" stroke="none" stroke-width="0" />
<circle cx="201.30" cy="546.10" r="1.40" fill="#75a5a2" stroke="none" stroke-width="0" />
<circle cx="206.90" cy="544.80" r="1.40" fill="#75a5a2" stroke="none" stroke-width="0" />
<circle cx="209.30" cy="545.30" r="1.40" fill="#75a5a2" stroke="none" stroke-width="0" />
<circle cx="213.40" cy="546.10" r="1.40" fill="#75a5a2" stroke="none" stroke-width="0" />
<circle cx="214.60" cy="544.10" r="1.40" fill="#75a5a2" stroke="none" stroke-width="0" />
<circle cx="204.50" cy="547.70" r="1.40" fill="#75a5a2" stroke="none" stroke-width="0" />
<circle cx="199.70" cy="548.50" r="1.40" fill="#75a5a2" stroke="none" stroke-width="0" />
<circle cx="221.10" cy="544.80" r="1.40" fill="#75a5a2" stroke="none" stroke-width="0" />
<circle cx="217.90" cy="547.70" r="1.40" fill="#75a5a2" stroke="none" stroke-width="0" />
<circle cx="172.40" cy="549.30" r="1.40" fill="#75a5a2" stroke="none" stroke-width="0" />
<circle cx="188.50" cy="552.50" r="1.40" fill="#75a5a2" stroke="none" stroke-width="0" />
<circle cx="193.30" cy="554.10" r="1.40" fill="#75a5a2" stroke="none" stroke-width="0" />
<circle cx="193.30" cy="556.00" r="1.40" fill="#75a5a2" stroke="none" stroke-width="0" />
<circle cx="208.50" cy="554.10" r="1.40" fill="#75a5a2" stroke="none" stroke-width="0" />
<circle cx="215.30" cy="552.80" r="1.40" fill="#75a5a2" stroke="none" stroke-width="0" />
<circle cx="202.90" cy="556.50" r="1.40" fill="#75a5a2" stroke="none" stroke-width="0" />
<circle cx="203.70" cy="558.90" r="1.40" fill="#75a5a2" stroke="none" stroke-width="0" />
<circle cx="197.30" cy="560.20" r="1.40" fill="#75a5a2" stroke="none" stroke-width="0" />
<circle cx="207.30" cy="560.50" r="1.40" fill="#75a5a2" stroke="none" stroke-width="0" />
<circle cx="181.60" cy="557.60" r="1.40" fill="#75a5a2" stroke="none" stroke-width="0" />
<circle cx="189.30" cy="563.40" r="1.40" fill="#75a5a2" stroke="none" stroke-width="0" />
<circle cx="199.70" cy="564.00" r="1.40" fill="#75a5a2" stroke="none" stroke-width="0" />
<circle cx="203.70" cy="562.90" r="1.40" fill="#75a5a2" stroke="none" stroke-width="0" />
<circle cx="194.10" cy="565.70" r="1.40" fill="#75a5a2" stroke="none" stroke-width="0" />
<circle cx="205.70" cy="567.30" r="1.40" fill="#75a5a2" stroke="none" stroke-width="0" />
<circle cx="201.30" cy="568.20" r="1.40" fill="#75a5a2" stroke="none" stroke-width="0" />
<circle cx="176.70" cy="566.10" r="1.40" fill="#75a5a2" stroke="none" stroke-width="0" />
<circle cx="181.20" cy="568.20" r="1.40" fill="#75a5a2" stroke="none" stroke-width="0" />
<circle cx="194.10" cy="568.90" r="1.40" fill="#75a5a2" stroke="none" stroke-width="0" />
<circle cx="196.50" cy="569.30" r="1.40" fill="#75a5a2" stroke="none" stroke-width="0" />
<circle cx="198.90" cy="569.30" r="1.40" fill="#75a5a2" stroke="none" stroke-width="0" />
<circle cx="213.00" cy="568.90" r="1.40" fill="#75a5a2" stroke="none" stroke-width="0" />
<circle cx="214.20" cy="567.70" r="1.40" fill="#75a5a2" stroke="none" stroke-width="0" />
<circle cx="189.60" cy="572.10" r="1.40" fill="#75a5a2" stroke="none" stroke-width="0" />
<circle cx="193.30" cy="571.00" r="1.40" fill="#75a5a2" stroke="none" stroke-width="0" />
<circle cx="200.50" cy="572.60" r="1.40" fill="#75a5a2" stroke="none" stroke-width="0" />
<circle cx="202.90" cy="573.00" r="1.40" fill="#75a5a2" stroke="none" stroke-width="0" />
<circle cx="201.30" cy="574.20" r="1.40" fill="#75a5a2" stroke="none" stroke-width="0" />
<circle cx="204.50" cy="574.20" r="1.40" fill="#75a5a2" stroke="none" stroke-width="0" />
<circle cx="213.40" cy="575.40" r="1.40" fill="#75a5a2" stroke="none" stroke-width="0" />
<circle cx="189.30" cy="577.40" r="1.40" fill="#75a5a2" stroke="none" stroke-width="0" />
<circle cx="191.70" cy="576.90" r="1.40" fill="#75a5a2" stroke="none" stroke-width="0" />
<circle cx="200.50" cy="577.90" r="1.40" fill="#75a5a2" stroke="none" stroke-width="0" />
<circle cx="205.00" cy="576.60" r="1.40" fill="#75a5a2" stroke="none" stroke-width="0" />
<circle cx="171.90" cy="580.10" r="1.40" fill="#75a5a2" stroke="none" stroke-width="0" />
<circle cx="174.50" cy="583.80" r="1.40" fill="#75a5a2" stroke="none" stroke-width="0" />
<circle cx="176.40" cy="585.40" r="1.40" fill="#75a5a2" stroke="none" stroke-width="0" />
<circle cx="178.00" cy="583.00" r="1.40" fill="#75a5a2" stroke="none" stroke-width="0" />
<circle cx="179.60" cy="586.20" r="1.40" fill="#75a5a2" stroke="none" stroke-width="0" />
<circle cx="194.10" cy="582.20" r="1.40" fill="#75a5a2" stroke="none" stroke-width="0" />
<circle cx="195.70" cy="581.10" r="1.40" fill="#75a5a2" stroke="none" stroke-width="0" />
<circle cx="197.60" cy="581.10" r="1.40" fill="#75a5a2" stroke="none" stroke-width="0" />
<circle cx="193.80" cy="584.60" r="1.40" fill="#75a5a2" stroke="none" stroke-width="0" />
<circle cx="194.90" cy="583.00" r="1.40" fill="#75a5a2" stroke="none" stroke-width="0" />
<circle cx="199.40" cy="584.90" r="1.40" fill="#75a5a2" stroke="none" stroke-width="0" />
<circle cx="205.00" cy="582.20" r="1.40" fill="#75a5a2" stroke="none" stroke-width="0" />
<circle cx="189.60" cy="589.70" r="1.40" fill="#75a5a2" stroke="none" stroke-width="0" />
<circle cx="193.80" cy="590.20" r="1.40" fill="#75a5a2" stroke="none" stroke-width="0" />
<circle cx="194.10" cy="592.60" r="1.40" fill="#75a5a2" stroke="none" stroke-width="0" />
<circle cx="195.40" cy="593.40" r="1.40" fill="#75a5a2" stroke="none" stroke-width="0" />
<circle cx="194.10" cy="594.20" r="1.40" fill="#75a5a2" stroke="none" stroke-width="0" />
<circle cx="206.90" cy="592.60" r="1.40" fill="#75a5a2" stroke="none" stroke-width="0" />
<circle cx="180.40" cy="595.00" r="1.40" fill="#75a5a2" stroke="none" stroke-width="0" />
<circle cx="58.00" cy="575.10" r="1.40" fill="#75a5a2" stroke="none" stroke-width="0" />
<circle cx="68.00" cy="591.80" r="1.40" fill="#75a5a2" stroke="none" stroke-width="0" />
<circle cx="70.50" cy="594.10" r="1.40" fill="#75a5a2" stroke="none" stroke-width="0" />
<circle cx="72.20" cy="576.60" r="1.40" fill="#75a5a2" stroke="none" stroke-width="0" />
<circle cx="78.10" cy="583.80" r="1.40" fill="#75a5a2" stroke="none" stroke-width="0" />
<circle cx="80.90" cy="592.20" r="1.40" fill="#75a5a2" stroke="none" stroke-width="0" />
<circle cx="84.20" cy="568.80" r="1.40" fill="#75a5a2" stroke="none" stroke-width="0" />
<circle cx="84.20" cy="577.80" r="1.40" fill="#75a5a2" stroke="none" stroke-width="0" />
<circle cx="88.90" cy="593.50" r="1.40" fill="#75a5a2" stroke="none" stroke-width="0" />
<circle cx="95.00" cy="577.00" r="1.40" fill="#75a5a2" stroke="none" stroke-width="0" />
<circle cx="97.80" cy="585.90" r="1.40" fill="#75a5a2" stroke="none" stroke-width="0" />
<circle cx="103.50" cy="587.80" r="1.40" fill="#75a5a2" stroke="none" stroke-width="0" />
<circle cx="105.60" cy="594.80" r="1.40" fill="#75a5a2" stroke="none" stroke-width="0" />
<circle cx="106.90" cy="589.90" r="1.40" fill="#75a5a2" stroke="none" stroke-width="0" />
<circle cx="108.50" cy="589.00" r="1.40" fill="#75a5a2" stroke="none" stroke-width="0" />
<circle cx="108.80" cy="579.30" r="1.40" fill="#75a5a2" stroke="none" stroke-width="0" />
<circle cx="111.10" cy="594.70" r="1.40" fill="#75a5a2" stroke="none" stroke-width="0" />
<circle cx="112.10" cy="577.60" r="1.40" fill="#75a5a2" stroke="none" stroke-width="0" />
<circle cx="112.60" cy="589.00" r="1.40" fill="#75a5a2" stroke="none" stroke-width="0" />
<circle cx="117.40" cy="593.70" r="1.40" fill="#75a5a2" stroke="none" stroke-width="0" />
<circle cx="117.90" cy="588.40" r="1.40" fill="#75a5a2" stroke="none" stroke-width="0" />
<circle cx="121.70" cy="592.80" r="1.40" fill="#75a5a2" stroke="none" stroke-width="0" />
<circle cx="121.70" cy="586.90" r="1.40" fill="#75a5a2" stroke="none" stroke-width="0" />
<circle cx="123.60" cy="590.70" r="1.40" fill="#75a5a2" stroke="none" stroke-width="0" />
<circle cx="124.40" cy="595.00" r="1.40" fill="#75a5a2" stroke="none" stroke-width="0" />
<circle cx="126.90" cy="584.60" r="1.40" fill="#75a5a2" stroke="none" stroke-width="0" />
<circle cx="128.40" cy="585.50" r="1.40" fill="#75a5a2" stroke="none" stroke-width="0" />
<circle cx="131.20" cy="582.30" r="1.40" fill="#75a5a2" stroke="none" stroke-width="0" />
<circle cx="132.20" cy="582.10" r="1.40" fill="#75a5a2" stroke="none" stroke-width="0" />
<circle cx="133.10" cy="591.60" r="1.40" fill="#75a5a2" stroke="none" stroke-width="0" />
<circle cx="133.50" cy="574.20" r="1.40" fill="#75a5a2" stroke="none" stroke-width="0" />
<circle cx="135.40" cy="577.40" r="1.40" fill="#75a5a2" stroke="none" stroke-width="0" />
<circle cx="135.80" cy="593.00" r="1.40" fill="#75a5a2" stroke="none" stroke-width="0" />
<circle cx="138.80" cy="565.60" r="1.40" fill="#75a5a2" stroke="none" stroke-width="0" />
<circle cx="140.10" cy="575.50" r="1.40" fill="#75a5a2" stroke="none" stroke-width="0" />
<circle cx="142.00" cy="581.40" r="1.40" fill="#75a5a2" stroke="none" stroke-width="0" />
<circle cx="144.50" cy="586.10" r="1.40" fill="#75a5a2" stroke="none" stroke-width="0" />
<circle cx="145.80" cy="575.10" r="1.40" fill="#75a5a2" stroke="none" stroke-width="0" />
<circle cx="146.20" cy="591.60" r="1.40" fill="#75a5a2" stroke="none" stroke-width="0" />
<circle cx="147.20" cy="589.70" r="1.40" fill="#75a5a2" stroke="none" stroke-width="0" />
<circle cx="146.80" cy="583.30" r="1.40" fill="#75a5a2" stroke="none" stroke-width="0" />
<circle cx="149.60" cy="584.20" r="1.40" fill="#75a5a2" stroke="none" stroke-width="0" />
<circle cx="151.00" cy="575.10" r="1.40" fill="#75a5a2" stroke="none" stroke-width="0" />
<circle cx="152.90" cy="578.90" r="1.40" fill="#75a5a2" stroke="none" stroke-width="0" />
<circle cx="152.50" cy="583.30" r="1.40" fill="#75a5a2" stroke="none" stroke-width="0" />
<circle cx="153.10" cy="585.50" r="1.40" fill="#75a5a2" stroke="none" stroke-width="0" />
<circle cx="155.30" cy="582.30" r="1.40" fill="#75a5a2" stroke="none" stroke-width="0" />
<circle cx="156.90" cy="573.20" r="1.40" fill="#75a5a2" stroke="none" stroke-width="0" />
<circle cx="158.20" cy="590.30" r="1.40" fill="#75a5a2" stroke="none" stroke-width="0" />
<circle cx="158.70" cy="595.60" r="1.40" fill="#75a5a2" stroke="none" stroke-width="0" />
<circle cx="160.10" cy="588.40" r="1.40" fill="#75a5a2" stroke="none" stroke-width="0" />
<circle cx="161.00" cy="594.70" r="1.40" fill="#75a5a2" stroke="none" stroke-width="0" />
<circle cx="162.90" cy="587.40" r="1.40" fill="#75a5a2" stroke="none" stroke-width="0" />
<circle cx="163.90" cy="588.40" r="1.40" fill="#75a5a2" stroke="none" stroke-width="0" />
<circle cx="164.60" cy="561.80" r="1.40" fill="#75a5a2" stroke="none" stroke-width="0" />
<circle cx="164.60" cy="578.30" r="1.40" fill="#75a5a2" stroke="none" stroke-width="0" />
<circle cx="165.80" cy="595.00" r="1.40" fill="#75a5a2" stroke="none" stroke-width="0" />
<circle cx="167.70" cy="545.70" r="1.40" fill="#75a5a2" stroke="none" stroke-width="0" />
<circle cx="167.10" cy="578.30" r="1.40" fill="#75a5a2" stroke="none" stroke-width="0" />
<circle cx="167.70" cy="590.90" r="1.40" fill="#75a5a2" stroke="none" stroke-width="0" />
<circle cx="168.60" cy="569.80" r="1.40" fill="#75a5a2" stroke="none" stroke-width="0" />
<rect x="386.50" y="442.50" width="230.00" height="187.00" fill="none" stroke="#151515" stroke-width="1.05" />
<line x1="383.00" y1="627.30" x2="386.50" y2="627.30" stroke="#222" stroke-width="0.9" />
<text x="375.50" y="630.40" font-family="Liberation Sans, sans-serif" font-size="8.8" text-anchor="end" fill="#1a1a1a" font-weight="normal" >0.0</text>
<line x1="383.00" y1="601.22" x2="386.50" y2="601.22" stroke="#222" stroke-width="0.9" />
<text x="375.50" y="604.32" font-family="Liberation Sans, sans-serif" font-size="8.8" text-anchor="end" fill="#1a1a1a" font-weight="normal" >0.2</text>
<line x1="383.00" y1="575.14" x2="386.50" y2="575.14" stroke="#222" stroke-width="0.9" />
<text x="375.50" y="578.24" font-family="Liberation Sans, sans-serif" font-size="8.8" text-anchor="end" fill="#1a1a1a" font-weight="normal" >0.4</text>
<line x1="383.00" y1="549.06" x2="386.50" y2="549.06" stroke="#222" stroke-width="0.9" />
<text x="375.50" y="552.16" font-family="Liberation Sans, sans-serif" font-size="8.8" text-anchor="end" fill="#1a1a1a" font-weight="normal" >0.6</text>
<line x1="383.00" y1="522.98" x2="386.50" y2="522.98" stroke="#222" stroke-width="0.9" />
<text x="375.50" y="526.08" font-family="Liberation Sans, sans-serif" font-size="8.8" text-anchor="end" fill="#1a1a1a" font-weight="normal" >0.8</text>
<line x1="383.00" y1="496.90" x2="386.50" y2="496.90" stroke="#222" stroke-width="0.9" />
<text x="375.50" y="500.00" font-family="Liberation Sans, sans-serif" font-size="8.8" text-anchor="end" fill="#1a1a1a" font-weight="normal" >1.0</text>
<line x1="383.00" y1="470.82" x2="386.50" y2="470.82" stroke="#222" stroke-width="0.9" />
<text x="375.50" y="473.92" font-family="Liberation Sans, sans-serif" font-size="8.8" text-anchor="end" fill="#1a1a1a" font-weight="normal" >1.2</text>
<line x1="383.00" y1="444.74" x2="386.50" y2="444.74" stroke="#222" stroke-width="0.9" />
<text x="375.50" y="447.84" font-family="Liberation Sans, sans-serif" font-size="8.8" text-anchor="end" fill="#1a1a1a" font-weight="normal" >1.4</text>
<line x1="427.00" y1="629.60" x2="427.00" y2="633.10" stroke="#222" stroke-width="0.9" />
<text x="427.00" y="653.50" font-family="Liberation Sans, sans-serif" font-size="10" text-anchor="middle" fill="#1a1a1a" font-weight="normal" >Filtered</text>
<line x1="575.80" y1="629.60" x2="575.80" y2="633.10" stroke="#222" stroke-width="0.9" />
<text x="575.80" y="653.50" font-family="Liberation Sans, sans-serif" font-size="10" text-anchor="middle" fill="#1a1a1a" font-weight="normal" >Random</text>
<text x="357" y="535.7" font-family="Liberation Sans, sans-serif" font-size="10.2" text-anchor="middle" dominant-baseline="central" fill="#1a1a1a" transform="rotate(-90 357 535.7)">Fold Improvement</text>
<polygon points="421.00,451.10 416.90,459.50 412.50,466.70 408.50,473.90 405.30,481.10 404.10,488.40 404.60,495.60 406.30,502.80 408.30,510.00 409.70,517.30 410.20,524.50 410.20,531.70 410.00,538.90 406.70,549.50 400.60,563.90 397.20,578.40 398.40,592.80 402.40,607.30 406.50,617.00 409.00,623.20 445.00,623.20 447.50,617.00 451.60,607.30 455.60,592.80 456.80,578.40 453.40,563.90 447.30,549.50 444.00,538.90 443.80,531.70 443.80,524.50 444.30,517.30 445.70,510.00 447.70,502.80 449.40,495.60 449.90,488.40 448.70,481.10 445.50,473.90 441.50,466.70 437.10,459.50 433.00,451.10" fill="#b8dcf0"/>
<polygon points="575.00,488.50 574.90,500.00 574.80,520.00 574.60,540.00 574.10,551.80 573.40,560.00 572.30,568.30 570.40,575.00 568.90,580.50 565.50,589.00 558.90,596.30 552.50,603.60 548.20,610.90 546.40,616.40 548.80,621.90 549.90,623.10 601.90,623.10 603.00,621.90 605.40,616.40 603.60,610.90 599.30,603.60 592.90,596.30 586.30,589.00 582.90,580.50 581.40,575.00 579.50,568.30 578.40,560.00 577.70,551.80 577.20,540.00 577.00,520.00 576.90,500.00 576.80,488.50" fill="#f1c5e5"/>
<line x1="411.70" y1="549.20" x2="442.00" y2="549.20" stroke="#e070c8" stroke-width="0.9" stroke-dasharray="1,1.2"/>
<circle cx="426.80" cy="451.10" r="1.60" fill="#daf09a" stroke="#6a6a55" stroke-width="0.35" />
<circle cx="425.10" cy="456.30" r="1.60" fill="#f2faab" stroke="#6a6a55" stroke-width="0.35" />
<circle cx="431.80" cy="459.00" r="1.60" fill="#f2faab" stroke="#6a6a55" stroke-width="0.35" />
<circle cx="424.30" cy="464.50" r="1.60" fill="#a80d44" stroke="#6a6a55" stroke-width="0.35" />
<circle cx="417.40" cy="468.10" r="1.60" fill="#c8e99e" stroke="#6a6a55" stroke-width="0.35" />
<circle cx="423.20" cy="470.30" r="1.60" fill="#f88d52" stroke="#6a6a55" stroke-width="0.35" />
<circle cx="416.70" cy="472.20" r="1.60" fill="#fdb869" stroke="#6a6a55" stroke-width="0.35" />
<circle cx="428.20" cy="472.50" r="1.60" fill="#c8e99e" stroke="#6a6a55" stroke-width="0.35" />
<circle cx="433.00" cy="472.90" r="1.60" fill="#b91f48" stroke="#6a6a55" stroke-width="0.35" />
<circle cx="437.90" cy="472.50" r="1.60" fill="#c8e99e" stroke="#6a6a55" stroke-width="0.35" />
<circle cx="411.60" cy="476.50" r="1.60" fill="#f46d43" stroke="#6a6a55" stroke-width="0.35" />
<circle cx="414.50" cy="477.90" r="1.60" fill="#b91f48" stroke="#6a6a55" stroke-width="0.35" />
<circle cx="408.30" cy="478.50" r="1.60" fill="#fdae61" stroke="#6a6a55" stroke-width="0.35" />
<circle cx="414.90" cy="480.10" r="1.60" fill="#c8e99e" stroke="#6a6a55" stroke-width="0.35" />
<circle cx="418.40" cy="479.20" r="1.60" fill="#f2faab" stroke="#6a6a55" stroke-width="0.35" />
<circle cx="421.00" cy="477.50" r="1.60" fill="#fef8b4" stroke="#6a6a55" stroke-width="0.35" />
<circle cx="423.90" cy="478.20" r="1.60" fill="#fdc776" stroke="#6a6a55" stroke-width="0.35" />
<circle cx="433.30" cy="476.50" r="1.60" fill="#f2faab" stroke="#6a6a55" stroke-width="0.35" />
<circle cx="444.90" cy="478.20" r="1.60" fill="#f2faab" stroke="#6a6a55" stroke-width="0.35" />
<circle cx="434.70" cy="480.40" r="1.60" fill="#fdae61" stroke="#6a6a55" stroke-width="0.35" />
<circle cx="446.30" cy="481.80" r="1.60" fill="#fdae61" stroke="#6a6a55" stroke-width="0.35" />
<circle cx="422.50" cy="482.90" r="1.60" fill="#fdae61" stroke="#6a6a55" stroke-width="0.35" />
<circle cx="432.90" cy="482.90" r="1.60" fill="#f46d43" stroke="#6a6a55" stroke-width="0.35" />
<circle cx="434.30" cy="484.00" r="1.60" fill="#f46d43" stroke="#6a6a55" stroke-width="0.35" />
<circle cx="427.50" cy="485.50" r="1.60" fill="#e45549" stroke="#6a6a55" stroke-width="0.35" />
<circle cx="432.30" cy="486.50" r="1.60" fill="#fdae61" stroke="#6a6a55" stroke-width="0.35" />
<circle cx="424.60" cy="487.60" r="1.60" fill="#db474c" stroke="#6a6a55" stroke-width="0.35" />
<circle cx="448.50" cy="485.20" r="1.60" fill="#c8e99e" stroke="#6a6a55" stroke-width="0.35" />
<circle cx="443.70" cy="484.00" r="1.60" fill="#c8e99e" stroke="#6a6a55" stroke-width="0.35" />
<circle cx="414.10" cy="487.90" r="1.60" fill="#fdae61" stroke="#6a6a55" stroke-width="0.35" />
<circle cx="410.90" cy="490.50" r="1.60" fill="#f2faab" stroke="#6a6a55" stroke-width="0.35" />
<circle cx="416.00" cy="489.10" r="1.60" fill="#f2faab" stroke="#6a6a55" stroke-width="0.35" />
<circle cx="419.90" cy="488.40" r="1.60" fill="#c8e99e" stroke="#6a6a55" stroke-width="0.35" />
<circle cx="406.60" cy="491.50" r="1.60" fill="#c8e99e" stroke="#6a6a55" stroke-width="0.35" />
<circle cx="422.20" cy="490.80" r="1.60" fill="#c8e99e" stroke="#6a6a55" stroke-width="0.35" />
<circle cx="421.40" cy="493.10" r="1.60" fill="#f2faab" stroke="#6a6a55" stroke-width="0.35" />
<circle cx="420.30" cy="493.10" r="1.60" fill="#daf09a" stroke="#6a6a55" stroke-width="0.35" />
<circle cx="428.00" cy="491.20" r="1.60" fill="#fdc776" stroke="#6a6a55" stroke-width="0.35" />
<circle cx="435.90" cy="490.50" r="1.60" fill="#f46d43" stroke="#6a6a55" stroke-width="0.35" />
<circle cx="432.90" cy="493.10" r="1.60" fill="#f2faab" stroke="#6a6a55" stroke-width="0.35" />
<circle cx="439.80" cy="492.00" r="1.60" fill="#f2faab" stroke="#6a6a55" stroke-width="0.35" />
<circle cx="443.00" cy="492.30" r="1.60" fill="#f2faab" stroke="#6a6a55" stroke-width="0.35" />
<circle cx="445.60" cy="491.20" r="1.60" fill="#c8e99e" stroke="#6a6a55" stroke-width="0.35" />
<circle cx="448.20" cy="492.40" r="1.60" fill="#c8e99e" stroke="#6a6a55" stroke-width="0.35" />
<circle cx="449.60" cy="489.80" r="1.60" fill="#fdc776" stroke="#6a6a55" stroke-width="0.35" />
<circle cx="415.20" cy="495.30" r="1.60" fill="#f2faab" stroke="#6a6a55" stroke-width="0.35" />
<circle cx="442.70" cy="496.60" r="1.60" fill="#fdc776" stroke="#6a6a55" stroke-width="0.35" />
<circle cx="408.00" cy="499.60" r="1.60" fill="#c8e99e" stroke="#6a6a55" stroke-width="0.35" />
<circle cx="429.00" cy="499.60" r="1.60" fill="#fdc776" stroke="#6a6a55" stroke-width="0.35" />
<circle cx="436.90" cy="499.60" r="1.60" fill="#f2faab" stroke="#6a6a55" stroke-width="0.35" />
<circle cx="439.10" cy="499.60" r="1.60" fill="#c8e99e" stroke="#6a6a55" stroke-width="0.35" />
<circle cx="416.40" cy="502.50" r="1.60" fill="#b91f48" stroke="#6a6a55" stroke-width="0.35" />
<circle cx="424.60" cy="502.50" r="1.60" fill="#f2faab" stroke="#6a6a55" stroke-width="0.35" />
<circle cx="433.70" cy="502.50" r="1.60" fill="#fdd17e" stroke="#6a6a55" stroke-width="0.35" />
<circle cx="441.20" cy="502.80" r="1.60" fill="#b91f48" stroke="#6a6a55" stroke-width="0.35" />
<circle cx="442.40" cy="502.50" r="1.60" fill="#f2faab" stroke="#6a6a55" stroke-width="0.35" />
<circle cx="407.30" cy="505.40" r="1.60" fill="#fdc776" stroke="#6a6a55" stroke-width="0.35" />
<circle cx="435.50" cy="505.40" r="1.60" fill="#c8e99e" stroke="#6a6a55" stroke-width="0.35" />
<circle cx="410.60" cy="514.10" r="1.60" fill="#f2faab" stroke="#6a6a55" stroke-width="0.35" />
<circle cx="412.10" cy="516.80" r="1.60" fill="#f2faab" stroke="#6a6a55" stroke-width="0.35" />
<circle cx="437.20" cy="514.10" r="1.60" fill="#f2faab" stroke="#6a6a55" stroke-width="0.35" />
<circle cx="412.60" cy="519.90" r="1.60" fill="#fdc776" stroke="#6a6a55" stroke-width="0.35" />
<circle cx="418.80" cy="520.10" r="1.60" fill="#f46d43" stroke="#6a6a55" stroke-width="0.35" />
<circle cx="421.30" cy="520.10" r="1.60" fill="#f46d43" stroke="#6a6a55" stroke-width="0.35" />
<circle cx="426.80" cy="517.00" r="1.60" fill="#f2faab" stroke="#6a6a55" stroke-width="0.35" />
<circle cx="431.80" cy="517.00" r="1.60" fill="#c8e99e" stroke="#6a6a55" stroke-width="0.35" />
<circle cx="438.40" cy="517.00" r="1.60" fill="#fdc776" stroke="#6a6a55" stroke-width="0.35" />
<circle cx="443.80" cy="517.00" r="1.60" fill="#f2faab" stroke="#6a6a55" stroke-width="0.35" />
<circle cx="430.80" cy="523.00" r="1.60" fill="#f2faab" stroke="#6a6a55" stroke-width="0.35" />
<circle cx="424.60" cy="525.60" r="1.60" fill="#f2faab" stroke="#6a6a55" stroke-width="0.35" />
<circle cx="431.40" cy="525.90" r="1.60" fill="#f2faab" stroke="#6a6a55" stroke-width="0.35" />
<circle cx="413.10" cy="528.50" r="1.60" fill="#f2faab" stroke="#6a6a55" stroke-width="0.35" />
<circle cx="427.10" cy="528.50" r="1.60" fill="#f2faab" stroke="#6a6a55" stroke-width="0.35" />
<circle cx="438.40" cy="528.50" r="1.60" fill="#f2faab" stroke="#6a6a55" stroke-width="0.35" />
<circle cx="442.40" cy="528.50" r="1.60" fill="#fdc776" stroke="#6a6a55" stroke-width="0.35" />
<circle cx="411.60" cy="531.70" r="1.60" fill="#fdae61" stroke="#6a6a55" stroke-width="0.35" />
<circle cx="416.00" cy="531.70" r="1.60" fill="#f2faab" stroke="#6a6a55" stroke-width="0.35" />
<circle cx="429.20" cy="531.70" r="1.60" fill="#c8e99e" stroke="#6a6a55" stroke-width="0.35" />
<circle cx="439.50" cy="531.70" r="1.60" fill="#c8e99e" stroke="#6a6a55" stroke-width="0.35" />
<circle cx="417.00" cy="534.60" r="1.60" fill="#db474c" stroke="#6a6a55" stroke-width="0.35" />
<circle cx="436.90" cy="534.60" r="1.60" fill="#c8e99e" stroke="#6a6a55" stroke-width="0.35" />
<circle cx="429.70" cy="537.20" r="1.60" fill="#f2faab" stroke="#6a6a55" stroke-width="0.35" />
<circle cx="411.70" cy="540.50" r="1.60" fill="#c8e99e" stroke="#6a6a55" stroke-width="0.35" />
<circle cx="413.80" cy="543.40" r="1.60" fill="#f2faab" stroke="#6a6a55" stroke-width="0.35" />
<circle cx="409.50" cy="546.30" r="1.60" fill="#f2faab" stroke="#6a6a55" stroke-width="0.35" />
<circle cx="419.30" cy="546.30" r="1.60" fill="#fdae61" stroke="#6a6a55" stroke-width="0.35" />
<circle cx="425.80" cy="543.40" r="1.60" fill="#f2faab" stroke="#6a6a55" stroke-width="0.35" />
<circle cx="438.40" cy="543.40" r="1.60" fill="#c8e99e" stroke="#6a6a55" stroke-width="0.35" />
<circle cx="423.20" cy="552.10" r="1.60" fill="#f2faab" stroke="#6a6a55" stroke-width="0.35" />
<circle cx="423.00" cy="555.00" r="1.60" fill="#f2faab" stroke="#6a6a55" stroke-width="0.35" />
<circle cx="436.20" cy="555.00" r="1.60" fill="#f2faab" stroke="#6a6a55" stroke-width="0.35" />
<circle cx="444.20" cy="555.00" r="1.60" fill="#f2faab" stroke="#6a6a55" stroke-width="0.35" />
<circle cx="407.30" cy="557.80" r="1.60" fill="#c8e99e" stroke="#6a6a55" stroke-width="0.35" />
<circle cx="413.80" cy="560.70" r="1.60" fill="#c8e99e" stroke="#6a6a55" stroke-width="0.35" />
<circle cx="441.30" cy="560.70" r="1.60" fill="#f2faab" stroke="#6a6a55" stroke-width="0.35" />
<circle cx="447.80" cy="560.70" r="1.60" fill="#f2faab" stroke="#6a6a55" stroke-width="0.35" />
<circle cx="449.20" cy="560.70" r="1.60" fill="#f2faab" stroke="#6a6a55" stroke-width="0.35" />
<circle cx="414.90" cy="563.60" r="1.60" fill="#f2faab" stroke="#6a6a55" stroke-width="0.35" />
<circle cx="421.10" cy="563.60" r="1.60" fill="#f2faab" stroke="#6a6a55" stroke-width="0.35" />
<circle cx="430.90" cy="563.60" r="1.60" fill="#f2faab" stroke="#6a6a55" stroke-width="0.35" />
<circle cx="433.10" cy="563.60" r="1.60" fill="#f2faab" stroke="#6a6a55" stroke-width="0.35" />
<circle cx="440.60" cy="563.60" r="1.60" fill="#c8e99e" stroke="#6a6a55" stroke-width="0.35" />
<circle cx="412.40" cy="566.50" r="1.60" fill="#fdc776" stroke="#6a6a55" stroke-width="0.35" />
<circle cx="422.90" cy="566.50" r="1.60" fill="#c8e99e" stroke="#6a6a55" stroke-width="0.35" />
<circle cx="428.00" cy="566.50" r="1.60" fill="#fee08b" stroke="#6a6a55" stroke-width="0.35" />
<circle cx="431.90" cy="566.50" r="1.60" fill="#f2faab" stroke="#6a6a55" stroke-width="0.35" />
<circle cx="438.40" cy="566.50" r="1.60" fill="#f2faab" stroke="#6a6a55" stroke-width="0.35" />
<circle cx="407.60" cy="569.40" r="1.60" fill="#f2faab" stroke="#6a6a55" stroke-width="0.35" />
<circle cx="414.30" cy="569.40" r="1.60" fill="#c8e99e" stroke="#6a6a55" stroke-width="0.35" />
<circle cx="417.70" cy="569.40" r="1.60" fill="#b91f48" stroke="#6a6a55" stroke-width="0.35" />
<circle cx="434.10" cy="569.40" r="1.60" fill="#f88d52" stroke="#6a6a55" stroke-width="0.35" />
<circle cx="442.00" cy="569.40" r="1.60" fill="#fdc776" stroke="#6a6a55" stroke-width="0.35" />
<circle cx="451.00" cy="569.40" r="1.60" fill="#fdc776" stroke="#6a6a55" stroke-width="0.35" />
<circle cx="411.40" cy="572.30" r="1.60" fill="#c8e99e" stroke="#6a6a55" stroke-width="0.35" />
<circle cx="416.00" cy="572.30" r="1.60" fill="#f2faab" stroke="#6a6a55" stroke-width="0.35" />
<circle cx="420.60" cy="572.30" r="1.60" fill="#f2faab" stroke="#6a6a55" stroke-width="0.35" />
<circle cx="423.20" cy="572.30" r="1.60" fill="#d53e4f" stroke="#6a6a55" stroke-width="0.35" />
<circle cx="426.80" cy="572.30" r="1.60" fill="#c8e99e" stroke="#6a6a55" stroke-width="0.35" />
<circle cx="439.10" cy="572.30" r="1.60" fill="#c8e99e" stroke="#6a6a55" stroke-width="0.35" />
<circle cx="440.90" cy="572.30" r="1.60" fill="#f2faab" stroke="#6a6a55" stroke-width="0.35" />
<circle cx="448.80" cy="572.30" r="1.60" fill="#c8e99e" stroke="#6a6a55" stroke-width="0.35" />
<circle cx="404.00" cy="575.20" r="1.60" fill="#f2faab" stroke="#6a6a55" stroke-width="0.35" />
<circle cx="439.90" cy="575.20" r="1.60" fill="#c8e99e" stroke="#6a6a55" stroke-width="0.35" />
<circle cx="445.60" cy="575.20" r="1.60" fill="#c8e99e" stroke="#6a6a55" stroke-width="0.35" />
<circle cx="399.00" cy="578.10" r="1.60" fill="#c8e99e" stroke="#6a6a55" stroke-width="0.35" />
<circle cx="405.90" cy="578.10" r="1.60" fill="#c8e99e" stroke="#6a6a55" stroke-width="0.35" />
<circle cx="422.10" cy="578.10" r="1.60" fill="#c8e99e" stroke="#6a6a55" stroke-width="0.35" />
<circle cx="415.70" cy="581.00" r="1.60" fill="#f2faab" stroke="#6a6a55" stroke-width="0.35" />
<circle cx="419.20" cy="581.00" r="1.60" fill="#f2faab" stroke="#6a6a55" stroke-width="0.35" />
<circle cx="424.70" cy="581.00" r="1.60" fill="#f2faab" stroke="#6a6a55" stroke-width="0.35" />
<circle cx="439.90" cy="581.00" r="1.60" fill="#f2faab" stroke="#6a6a55" stroke-width="0.35" />
<circle cx="441.70" cy="581.00" r="1.60" fill="#f2faab" stroke="#6a6a55" stroke-width="0.35" />
<circle cx="450.00" cy="581.00" r="1.60" fill="#c8e99e" stroke="#6a6a55" stroke-width="0.35" />
<circle cx="454.30" cy="581.00" r="1.60" fill="#f2faab" stroke="#6a6a55" stroke-width="0.35" />
<circle cx="402.30" cy="583.80" r="1.60" fill="#c8e99e" stroke="#6a6a55" stroke-width="0.35" />
<circle cx="446.40" cy="583.80" r="1.60" fill="#c8e99e" stroke="#6a6a55" stroke-width="0.35" />
<circle cx="405.60" cy="586.70" r="1.60" fill="#f2faab" stroke="#6a6a55" stroke-width="0.35" />
<circle cx="436.00" cy="586.70" r="1.60" fill="#d53e4f" stroke="#6a6a55" stroke-width="0.35" />
<circle cx="445.60" cy="586.70" r="1.60" fill="#f2faab" stroke="#6a6a55" stroke-width="0.35" />
<circle cx="454.30" cy="586.70" r="1.60" fill="#c8e99e" stroke="#6a6a55" stroke-width="0.35" />
<circle cx="404.50" cy="589.60" r="1.60" fill="#fdae61" stroke="#6a6a55" stroke-width="0.35" />
<circle cx="408.50" cy="589.60" r="1.60" fill="#c8e99e" stroke="#6a6a55" stroke-width="0.35" />
<circle cx="418.60" cy="589.60" r="1.60" fill="#f88d52" stroke="#6a6a55" stroke-width="0.35" />
<circle cx="425.80" cy="589.60" r="1.60" fill="#f2faab" stroke="#6a6a55" stroke-width="0.35" />
<circle cx="435.10" cy="589.60" r="1.60" fill="#f2faab" stroke="#6a6a55" stroke-width="0.35" />
<circle cx="400.40" cy="592.50" r="1.60" fill="#f2faab" stroke="#6a6a55" stroke-width="0.35" />
<circle cx="419.60" cy="592.80" r="1.60" fill="#f2faab" stroke="#6a6a55" stroke-width="0.35" />
<circle cx="423.50" cy="592.80" r="1.60" fill="#c8e99e" stroke="#6a6a55" stroke-width="0.35" />
<circle cx="403.70" cy="595.40" r="1.60" fill="#c8e99e" stroke="#6a6a55" stroke-width="0.35" />
<circle cx="409.10" cy="595.40" r="1.60" fill="#c8e99e" stroke="#6a6a55" stroke-width="0.35" />
<circle cx="418.20" cy="598.30" r="1.60" fill="#f2faab" stroke="#6a6a55" stroke-width="0.35" />
<circle cx="424.40" cy="598.30" r="1.60" fill="#c8e99e" stroke="#6a6a55" stroke-width="0.35" />
<circle cx="429.30" cy="598.30" r="1.60" fill="#f2faab" stroke="#6a6a55" stroke-width="0.35" />
<circle cx="439.60" cy="598.30" r="1.60" fill="#f2faab" stroke="#6a6a55" stroke-width="0.35" />
<circle cx="447.50" cy="598.30" r="1.60" fill="#f2faab" stroke="#6a6a55" stroke-width="0.35" />
<circle cx="452.90" cy="598.30" r="1.60" fill="#f2faab" stroke="#6a6a55" stroke-width="0.35" />
<circle cx="426.10" cy="601.50" r="1.60" fill="#f2faab" stroke="#6a6a55" stroke-width="0.35" />
<circle cx="435.50" cy="601.50" r="1.60" fill="#c8e99e" stroke="#6a6a55" stroke-width="0.35" />
<circle cx="437.70" cy="601.50" r="1.60" fill="#f2faab" stroke="#6a6a55" stroke-width="0.35" />
<circle cx="443.80" cy="601.50" r="1.60" fill="#c8e99e" stroke="#6a6a55" stroke-width="0.35" />
<circle cx="451.80" cy="601.50" r="1.60" fill="#f2faab" stroke="#6a6a55" stroke-width="0.35" />
<circle cx="404.20" cy="604.40" r="1.60" fill="#c8e99e" stroke="#6a6a55" stroke-width="0.35" />
<circle cx="408.10" cy="604.40" r="1.60" fill="#fdc776" stroke="#6a6a55" stroke-width="0.35" />
<circle cx="413.10" cy="604.40" r="1.60" fill="#f2faab" stroke="#6a6a55" stroke-width="0.35" />
<circle cx="424.00" cy="604.40" r="1.60" fill="#f2faab" stroke="#6a6a55" stroke-width="0.35" />
<circle cx="430.50" cy="604.40" r="1.60" fill="#c8e99e" stroke="#6a6a55" stroke-width="0.35" />
<circle cx="439.90" cy="604.40" r="1.60" fill="#f2faab" stroke="#6a6a55" stroke-width="0.35" />
<circle cx="449.00" cy="604.40" r="1.60" fill="#c8e99e" stroke="#6a6a55" stroke-width="0.35" />
<circle cx="451.40" cy="604.40" r="1.60" fill="#f2faab" stroke="#6a6a55" stroke-width="0.35" />
<circle cx="428.30" cy="607.30" r="1.60" fill="#f2faab" stroke="#6a6a55" stroke-width="0.35" />
<circle cx="431.90" cy="607.30" r="1.60" fill="#f88d52" stroke="#6a6a55" stroke-width="0.35" />
<circle cx="433.40" cy="607.30" r="1.60" fill="#c8e99e" stroke="#6a6a55" stroke-width="0.35" />
<circle cx="404.90" cy="610.10" r="1.60" fill="#f2faab" stroke="#6a6a55" stroke-width="0.35" />
<circle cx="427.30" cy="610.10" r="1.60" fill="#f2faab" stroke="#6a6a55" stroke-width="0.35" />
<circle cx="443.50" cy="610.10" r="1.60" fill="#f2faab" stroke="#6a6a55" stroke-width="0.35" />
<circle cx="412.00" cy="613.00" r="1.60" fill="#c8e99e" stroke="#6a6a55" stroke-width="0.35" />
<circle cx="415.30" cy="613.00" r="1.60" fill="#f2faab" stroke="#6a6a55" stroke-width="0.35" />
<circle cx="417.20" cy="613.00" r="1.60" fill="#fdc776" stroke="#6a6a55" stroke-width="0.35" />
<circle cx="437.00" cy="613.00" r="1.60" fill="#c8e99e" stroke="#6a6a55" stroke-width="0.35" />
<circle cx="407.00" cy="615.90" r="1.60" fill="#c8e99e" stroke="#6a6a55" stroke-width="0.35" />
<circle cx="425.40" cy="615.90" r="1.60" fill="#c8e99e" stroke="#6a6a55" stroke-width="0.35" />
<circle cx="442.70" cy="615.90" r="1.60" fill="#f2faab" stroke="#6a6a55" stroke-width="0.35" />
<circle cx="416.30" cy="618.80" r="1.60" fill="#f2faab" stroke="#6a6a55" stroke-width="0.35" />
<circle cx="410.50" cy="621.70" r="1.60" fill="#f2faab" stroke="#6a6a55" stroke-width="0.35" />
<circle cx="415.70" cy="621.70" r="1.60" fill="#c8e99e" stroke="#6a6a55" stroke-width="0.35" />
<circle cx="420.10" cy="621.70" r="1.60" fill="#fdc776" stroke="#6a6a55" stroke-width="0.35" />
<circle cx="421.10" cy="621.70" r="1.60" fill="#c8e99e" stroke="#6a6a55" stroke-width="0.35" />
<circle cx="424.70" cy="621.70" r="1.60" fill="#f2faab" stroke="#6a6a55" stroke-width="0.35" />
<circle cx="429.70" cy="621.70" r="1.60" fill="#c8e99e" stroke="#6a6a55" stroke-width="0.35" />
<circle cx="431.90" cy="621.70" r="1.60" fill="#c8e99e" stroke="#6a6a55" stroke-width="0.35" />
<circle cx="436.50" cy="621.70" r="1.60" fill="#f2faab" stroke="#6a6a55" stroke-width="0.35" />
<circle cx="440.60" cy="621.70" r="1.60" fill="#f2faab" stroke="#6a6a55" stroke-width="0.35" />
<circle cx="443.50" cy="621.70" r="1.60" fill="#f2faab" stroke="#6a6a55" stroke-width="0.35" />
<circle cx="429.70" cy="549.20" r="1.80" fill="#c02848" stroke="#6a3030" stroke-width="0.35" />
<line x1="562.00" y1="604.20" x2="590.00" y2="604.20" stroke="#e070c8" stroke-width="0.9" stroke-dasharray="1,1.2"/>
<circle cx="575.40" cy="489.40" r="1.55" fill="#c8e99e" stroke="#3a3a5a" stroke-width="0.4" />
<circle cx="573.90" cy="491.30" r="1.55" fill="#fdc776" stroke="#3a3a5a" stroke-width="0.4" />
<circle cx="575.20" cy="511.40" r="1.55" fill="#3288bd" stroke="#3a3a5a" stroke-width="0.4" />
<circle cx="576.80" cy="522.90" r="1.55" fill="#66c2a5" stroke="#3a3a5a" stroke-width="0.4" />
<circle cx="575.00" cy="528.90" r="1.55" fill="#3288bd" stroke="#3a3a5a" stroke-width="0.4" />
<circle cx="575.70" cy="543.30" r="1.55" fill="#3288bd" stroke="#3a3a5a" stroke-width="0.4" />
<circle cx="576.00" cy="549.00" r="1.55" fill="#c8e99e" stroke="#3a3a5a" stroke-width="0.4" />
<circle cx="575.20" cy="552.00" r="1.55" fill="#3288bd" stroke="#3a3a5a" stroke-width="0.4" />
<circle cx="576.80" cy="552.00" r="1.55" fill="#abdda4" stroke="#3a3a5a" stroke-width="0.4" />
<circle cx="575.40" cy="559.70" r="1.55" fill="#3288bd" stroke="#3a3a5a" stroke-width="0.4" />
<circle cx="575.32" cy="560.96" r="1.55" fill="#378dba" stroke="#3a3a5a" stroke-width="0.4" />
<circle cx="576.30" cy="563.64" r="1.55" fill="#378dba" stroke="#3a3a5a" stroke-width="0.4" />
<circle cx="574.10" cy="569.49" r="1.55" fill="#378dba" stroke="#3a3a5a" stroke-width="0.4" />
<circle cx="578.37" cy="569.49" r="1.55" fill="#bce4a0" stroke="#3a3a5a" stroke-width="0.4" />
<circle cx="576.18" cy="575.33" r="1.55" fill="#66c2a5" stroke="#3a3a5a" stroke-width="0.4" />
<circle cx="576.54" cy="578.26" r="1.55" fill="#66c2a5" stroke="#3a3a5a" stroke-width="0.4" />
<circle cx="571.06" cy="581.06" r="1.55" fill="#bce4a0" stroke="#3a3a5a" stroke-width="0.4" />
<circle cx="572.64" cy="581.06" r="1.55" fill="#66c2a5" stroke="#3a3a5a" stroke-width="0.4" />
<circle cx="579.59" cy="581.06" r="1.55" fill="#66c2a5" stroke="#3a3a5a" stroke-width="0.4" />
<circle cx="571.91" cy="584.10" r="1.55" fill="#378dba" stroke="#3a3a5a" stroke-width="0.4" />
<circle cx="575.32" cy="584.10" r="1.55" fill="#66c2a5" stroke="#3a3a5a" stroke-width="0.4" />
<circle cx="578.98" cy="584.10" r="1.55" fill="#bce4a0" stroke="#3a3a5a" stroke-width="0.4" />
<circle cx="581.41" cy="584.10" r="1.55" fill="#66c2a5" stroke="#3a3a5a" stroke-width="0.4" />
<circle cx="570.45" cy="586.78" r="1.55" fill="#378dba" stroke="#3a3a5a" stroke-width="0.4" />
<circle cx="572.89" cy="586.78" r="1.55" fill="#378dba" stroke="#3a3a5a" stroke-width="0.4" />
<circle cx="580.19" cy="586.78" r="1.55" fill="#66c2a5" stroke="#3a3a5a" stroke-width="0.4" />
<circle cx="569.23" cy="589.59" r="1.55" fill="#9dd7a4" stroke="#3a3a5a" stroke-width="0.4" />
<circle cx="571.06" cy="589.59" r="1.55" fill="#9dd7a4" stroke="#3a3a5a" stroke-width="0.4" />
<circle cx="574.71" cy="589.59" r="1.55" fill="#378dba" stroke="#3a3a5a" stroke-width="0.4" />
<circle cx="577.76" cy="589.59" r="1.55" fill="#378dba" stroke="#3a3a5a" stroke-width="0.4" />
<circle cx="580.19" cy="589.59" r="1.55" fill="#9dd7a4" stroke="#3a3a5a" stroke-width="0.4" />
<circle cx="582.63" cy="589.59" r="1.55" fill="#66c2a5" stroke="#3a3a5a" stroke-width="0.4" />
<circle cx="585.31" cy="589.59" r="1.55" fill="#378dba" stroke="#3a3a5a" stroke-width="0.4" />
<circle cx="569.23" cy="592.63" r="1.55" fill="#9dd7a4" stroke="#3a3a5a" stroke-width="0.4" />
<circle cx="572.28" cy="592.63" r="1.55" fill="#378dba" stroke="#3a3a5a" stroke-width="0.4" />
<circle cx="577.76" cy="592.63" r="1.55" fill="#bce4a0" stroke="#3a3a5a" stroke-width="0.4" />
<circle cx="580.80" cy="592.63" r="1.55" fill="#bce4a0" stroke="#3a3a5a" stroke-width="0.4" />
<circle cx="573.50" cy="595.68" r="1.55" fill="#66c2a5" stroke="#3a3a5a" stroke-width="0.4" />
<circle cx="580.80" cy="595.68" r="1.55" fill="#66c2a5" stroke="#3a3a5a" stroke-width="0.4" />
<circle cx="560.71" cy="598.72" r="1.55" fill="#378dba" stroke="#3a3a5a" stroke-width="0.4" />
<circle cx="564.36" cy="598.72" r="1.55" fill="#378dba" stroke="#3a3a5a" stroke-width="0.4" />
<circle cx="569.23" cy="598.72" r="1.55" fill="#66c2a5" stroke="#3a3a5a" stroke-width="0.4" />
<circle cx="574.10" cy="598.72" r="1.55" fill="#9dd7a4" stroke="#3a3a5a" stroke-width="0.4" />
<circle cx="578.98" cy="598.72" r="1.55" fill="#378dba" stroke="#3a3a5a" stroke-width="0.4" />
<circle cx="583.24" cy="598.72" r="1.55" fill="#9dd7a4" stroke="#3a3a5a" stroke-width="0.4" />
<circle cx="587.50" cy="598.72" r="1.55" fill="#66c2a5" stroke="#3a3a5a" stroke-width="0.4" />
<circle cx="591.16" cy="598.72" r="1.55" fill="#378dba" stroke="#3a3a5a" stroke-width="0.4" />
<circle cx="557.66" cy="601.16" r="1.55" fill="#378dba" stroke="#3a3a5a" stroke-width="0.4" />
<circle cx="568.01" cy="601.16" r="1.55" fill="#378dba" stroke="#3a3a5a" stroke-width="0.4" />
<circle cx="572.28" cy="601.16" r="1.55" fill="#66c2a5" stroke="#3a3a5a" stroke-width="0.4" />
<circle cx="575.93" cy="601.16" r="1.55" fill="#66c2a5" stroke="#3a3a5a" stroke-width="0.4" />
<circle cx="581.41" cy="601.16" r="1.55" fill="#9dd7a4" stroke="#3a3a5a" stroke-width="0.4" />
<circle cx="586.29" cy="601.16" r="1.55" fill="#66c2a5" stroke="#3a3a5a" stroke-width="0.4" />
<circle cx="593.59" cy="601.16" r="1.55" fill="#378dba" stroke="#3a3a5a" stroke-width="0.4" />
<circle cx="596.03" cy="601.16" r="1.55" fill="#bce4a0" stroke="#3a3a5a" stroke-width="0.4" />
<circle cx="554.62" cy="604.20" r="1.55" fill="#378dba" stroke="#3a3a5a" stroke-width="0.4" />
<circle cx="557.05" cy="604.20" r="1.55" fill="#378dba" stroke="#3a3a5a" stroke-width="0.4" />
<circle cx="560.10" cy="604.20" r="1.55" fill="#66c2a5" stroke="#3a3a5a" stroke-width="0.4" />
<circle cx="566.80" cy="604.20" r="1.55" fill="#66c2a5" stroke="#3a3a5a" stroke-width="0.4" />
<circle cx="571.67" cy="604.20" r="1.55" fill="#66c2a5" stroke="#3a3a5a" stroke-width="0.4" />
<circle cx="578.37" cy="604.20" r="1.55" fill="#378dba" stroke="#3a3a5a" stroke-width="0.4" />
<circle cx="581.41" cy="604.20" r="1.55" fill="#66c2a5" stroke="#3a3a5a" stroke-width="0.4" />
<circle cx="588.72" cy="604.20" r="1.55" fill="#9dd7a4" stroke="#3a3a5a" stroke-width="0.4" />
<circle cx="593.59" cy="604.20" r="1.55" fill="#378dba" stroke="#3a3a5a" stroke-width="0.4" />
<circle cx="597.25" cy="604.20" r="1.55" fill="#66c2a5" stroke="#3a3a5a" stroke-width="0.4" />
<circle cx="559.49" cy="607.25" r="1.55" fill="#66c2a5" stroke="#3a3a5a" stroke-width="0.4" />
<circle cx="561.92" cy="607.25" r="1.55" fill="#378dba" stroke="#3a3a5a" stroke-width="0.4" />
<circle cx="571.06" cy="607.25" r="1.55" fill="#378dba" stroke="#3a3a5a" stroke-width="0.4" />
<circle cx="572.28" cy="607.25" r="1.55" fill="#378dba" stroke="#3a3a5a" stroke-width="0.4" />
<circle cx="588.72" cy="607.25" r="1.55" fill="#66c2a5" stroke="#3a3a5a" stroke-width="0.4" />
<circle cx="589.94" cy="607.25" r="1.55" fill="#9dd7a4" stroke="#3a3a5a" stroke-width="0.4" />
<circle cx="551.57" cy="610.29" r="1.55" fill="#66c2a5" stroke="#3a3a5a" stroke-width="0.4" />
<circle cx="563.14" cy="610.29" r="1.55" fill="#9dd7a4" stroke="#3a3a5a" stroke-width="0.4" />
<circle cx="566.19" cy="610.29" r="1.55" fill="#bce4a0" stroke="#3a3a5a" stroke-width="0.4" />
<circle cx="569.84" cy="610.29" r="1.55" fill="#378dba" stroke="#3a3a5a" stroke-width="0.4" />
<circle cx="572.28" cy="610.29" r="1.55" fill="#378dba" stroke="#3a3a5a" stroke-width="0.4" />
<circle cx="577.76" cy="610.29" r="1.55" fill="#9dd7a4" stroke="#3a3a5a" stroke-width="0.4" />
<circle cx="583.85" cy="610.29" r="1.55" fill="#66c2a5" stroke="#3a3a5a" stroke-width="0.4" />
<circle cx="589.33" cy="610.29" r="1.55" fill="#378dba" stroke="#3a3a5a" stroke-width="0.4" />
<circle cx="592.38" cy="610.29" r="1.55" fill="#378dba" stroke="#3a3a5a" stroke-width="0.4" />
<circle cx="597.25" cy="610.29" r="1.55" fill="#66c2a5" stroke="#3a3a5a" stroke-width="0.4" />
<circle cx="599.68" cy="610.29" r="1.55" fill="#378dba" stroke="#3a3a5a" stroke-width="0.4" />
<circle cx="547.92" cy="613.09" r="1.55" fill="#66c2a5" stroke="#3a3a5a" stroke-width="0.4" />
<circle cx="552.18" cy="613.09" r="1.55" fill="#378dba" stroke="#3a3a5a" stroke-width="0.4" />
<circle cx="555.83" cy="613.09" r="1.55" fill="#378dba" stroke="#3a3a5a" stroke-width="0.4" />
<circle cx="566.19" cy="613.09" r="1.55" fill="#66c2a5" stroke="#3a3a5a" stroke-width="0.4" />
<circle cx="581.41" cy="613.09" r="1.55" fill="#5060aa" stroke="#3a3a5a" stroke-width="0.4" />
<circle cx="586.89" cy="613.09" r="1.55" fill="#378dba" stroke="#3a3a5a" stroke-width="0.4" />
<circle cx="592.38" cy="613.09" r="1.55" fill="#9dd7a4" stroke="#3a3a5a" stroke-width="0.4" />
<circle cx="596.03" cy="613.09" r="1.55" fill="#378dba" stroke="#3a3a5a" stroke-width="0.4" />
<circle cx="600.90" cy="613.09" r="1.55" fill="#378dba" stroke="#3a3a5a" stroke-width="0.4" />
<circle cx="604.56" cy="613.09" r="1.55" fill="#378dba" stroke="#3a3a5a" stroke-width="0.4" />
<circle cx="549.74" cy="616.02" r="1.55" fill="#378dba" stroke="#3a3a5a" stroke-width="0.4" />
<circle cx="552.18" cy="616.02" r="1.55" fill="#378dba" stroke="#3a3a5a" stroke-width="0.4" />
<circle cx="555.23" cy="616.02" r="1.55" fill="#378dba" stroke="#3a3a5a" stroke-width="0.4" />
<circle cx="564.36" cy="616.02" r="1.55" fill="#66c2a5" stroke="#3a3a5a" stroke-width="0.4" />
<circle cx="569.23" cy="616.02" r="1.55" fill="#378dba" stroke="#3a3a5a" stroke-width="0.4" />
<circle cx="575.93" cy="616.02" r="1.55" fill="#378dba" stroke="#3a3a5a" stroke-width="0.4" />
<circle cx="582.02" cy="616.02" r="1.55" fill="#9dd7a4" stroke="#3a3a5a" stroke-width="0.4" />
<circle cx="588.72" cy="616.02" r="1.55" fill="#66c2a5" stroke="#3a3a5a" stroke-width="0.4" />
<circle cx="599.07" cy="616.02" r="1.55" fill="#378dba" stroke="#3a3a5a" stroke-width="0.4" />
<circle cx="605.16" cy="616.02" r="1.55" fill="#66c2a5" stroke="#3a3a5a" stroke-width="0.4" />
<circle cx="550.96" cy="618.82" r="1.55" fill="#66c2a5" stroke="#3a3a5a" stroke-width="0.4" />
<circle cx="558.27" cy="618.82" r="1.55" fill="#9dd7a4" stroke="#3a3a5a" stroke-width="0.4" />
<circle cx="561.92" cy="618.82" r="1.55" fill="#66c2a5" stroke="#3a3a5a" stroke-width="0.4" />
<circle cx="565.58" cy="618.82" r="1.55" fill="#66c2a5" stroke="#3a3a5a" stroke-width="0.4" />
<circle cx="569.23" cy="618.82" r="1.55" fill="#9dd7a4" stroke="#3a3a5a" stroke-width="0.4" />
<circle cx="576.54" cy="618.82" r="1.55" fill="#66c2a5" stroke="#3a3a5a" stroke-width="0.4" />
<circle cx="580.19" cy="618.82" r="1.55" fill="#66c2a5" stroke="#3a3a5a" stroke-width="0.4" />
<circle cx="586.89" cy="618.82" r="1.55" fill="#378dba" stroke="#3a3a5a" stroke-width="0.4" />
<circle cx="591.16" cy="618.82" r="1.55" fill="#378dba" stroke="#3a3a5a" stroke-width="0.4" />
<circle cx="596.03" cy="618.82" r="1.55" fill="#66c2a5" stroke="#3a3a5a" stroke-width="0.4" />
<circle cx="600.90" cy="618.82" r="1.55" fill="#66c2a5" stroke="#3a3a5a" stroke-width="0.4" />
<circle cx="581.25" cy="604.40" r="1.55" fill="#bce4a0" stroke="#3a3a5a" stroke-width="0.4" />
<circle cx="584.19" cy="604.48" r="1.55" fill="#4371b2" stroke="#3a3a5a" stroke-width="0.4" />
<circle cx="594.28" cy="603.83" r="1.55" fill="#66c2a5" stroke="#3a3a5a" stroke-width="0.4" />
<circle cx="587.91" cy="604.00" r="1.55" fill="#378dba" stroke="#3a3a5a" stroke-width="0.4" />
<circle cx="593.34" cy="603.89" r="1.55" fill="#66c2a5" stroke="#3a3a5a" stroke-width="0.4" />
<circle cx="591.93" cy="604.11" r="1.55" fill="#378dba" stroke="#3a3a5a" stroke-width="0.4" />
<circle cx="579.38" cy="606.86" r="1.55" fill="#378dba" stroke="#3a3a5a" stroke-width="0.4" />
<circle cx="571.57" cy="606.99" r="1.55" fill="#bce4a0" stroke="#3a3a5a" stroke-width="0.4" />
<circle cx="588.41" cy="606.97" r="1.55" fill="#bce4a0" stroke="#3a3a5a" stroke-width="0.4" />
<circle cx="555.74" cy="607.34" r="1.55" fill="#66c2a5" stroke="#3a3a5a" stroke-width="0.4" />
<circle cx="558.32" cy="606.85" r="1.55" fill="#bce4a0" stroke="#3a3a5a" stroke-width="0.4" />
<circle cx="552.60" cy="607.47" r="1.55" fill="#378dba" stroke="#3a3a5a" stroke-width="0.4" />
<circle cx="593.44" cy="607.08" r="1.55" fill="#378dba" stroke="#3a3a5a" stroke-width="0.4" />
<circle cx="577.89" cy="610.43" r="1.55" fill="#378dba" stroke="#3a3a5a" stroke-width="0.4" />
<circle cx="559.77" cy="610.67" r="1.55" fill="#378dba" stroke="#3a3a5a" stroke-width="0.4" />
<circle cx="599.55" cy="610.61" r="1.55" fill="#66c2a5" stroke="#3a3a5a" stroke-width="0.4" />
<circle cx="551.65" cy="610.22" r="1.55" fill="#378dba" stroke="#3a3a5a" stroke-width="0.4" />
<circle cx="563.93" cy="610.16" r="1.55" fill="#bce4a0" stroke="#3a3a5a" stroke-width="0.4" />
<circle cx="581.13" cy="609.90" r="1.55" fill="#4371b2" stroke="#3a3a5a" stroke-width="0.4" />
<circle cx="586.43" cy="609.95" r="1.55" fill="#66c2a5" stroke="#3a3a5a" stroke-width="0.4" />
<circle cx="592.73" cy="613.08" r="1.55" fill="#66c2a5" stroke="#3a3a5a" stroke-width="0.4" />
<circle cx="559.24" cy="613.07" r="1.55" fill="#378dba" stroke="#3a3a5a" stroke-width="0.4" />
<circle cx="552.49" cy="613.47" r="1.55" fill="#378dba" stroke="#3a3a5a" stroke-width="0.4" />
<circle cx="599.63" cy="612.98" r="1.55" fill="#66c2a5" stroke="#3a3a5a" stroke-width="0.4" />
<circle cx="550.44" cy="613.32" r="1.55" fill="#66c2a5" stroke="#3a3a5a" stroke-width="0.4" />
<circle cx="569.37" cy="613.37" r="1.55" fill="#66c2a5" stroke="#3a3a5a" stroke-width="0.4" />
<circle cx="551.95" cy="612.84" r="1.55" fill="#378dba" stroke="#3a3a5a" stroke-width="0.4" />
<circle cx="555.04" cy="615.81" r="1.55" fill="#bce4a0" stroke="#3a3a5a" stroke-width="0.4" />
<circle cx="600.10" cy="615.89" r="1.55" fill="#66c2a5" stroke="#3a3a5a" stroke-width="0.4" />
<circle cx="597.40" cy="615.82" r="1.55" fill="#66c2a5" stroke="#3a3a5a" stroke-width="0.4" />
<circle cx="554.44" cy="616.22" r="1.55" fill="#bce4a0" stroke="#3a3a5a" stroke-width="0.4" />
<circle cx="568.63" cy="615.85" r="1.55" fill="#66c2a5" stroke="#3a3a5a" stroke-width="0.4" />
<circle cx="600.31" cy="615.69" r="1.55" fill="#66c2a5" stroke="#3a3a5a" stroke-width="0.4" />
<circle cx="576.61" cy="615.91" r="1.55" fill="#378dba" stroke="#3a3a5a" stroke-width="0.4" />
<circle cx="567.14" cy="616.36" r="1.55" fill="#9dd7a4" stroke="#3a3a5a" stroke-width="0.4" />
<circle cx="554.33" cy="618.97" r="1.55" fill="#66c2a5" stroke="#3a3a5a" stroke-width="0.4" />
<circle cx="558.84" cy="618.48" r="1.55" fill="#378dba" stroke="#3a3a5a" stroke-width="0.4" />
<circle cx="587.60" cy="618.67" r="1.55" fill="#66c2a5" stroke="#3a3a5a" stroke-width="0.4" />
<circle cx="558.00" cy="618.46" r="1.55" fill="#9dd7a4" stroke="#3a3a5a" stroke-width="0.4" />
<circle cx="577.67" cy="618.74" r="1.55" fill="#378dba" stroke="#3a3a5a" stroke-width="0.4" />
<circle cx="588.62" cy="618.69" r="1.55" fill="#66c2a5" stroke="#3a3a5a" stroke-width="0.4" />
<circle cx="573.56" cy="618.76" r="1.55" fill="#378dba" stroke="#3a3a5a" stroke-width="0.4" />
<circle cx="551.80" cy="621.90" r="1.55" fill="#378dba" stroke="#3a3a5a" stroke-width="0.4" />
<circle cx="554.50" cy="621.90" r="1.55" fill="#4ca5b1" stroke="#3a3a5a" stroke-width="0.4" />
<circle cx="557.20" cy="621.90" r="1.55" fill="#4371b2" stroke="#3a3a5a" stroke-width="0.4" />
<circle cx="559.90" cy="621.90" r="1.55" fill="#66c2a5" stroke="#3a3a5a" stroke-width="0.4" />
<circle cx="562.60" cy="621.90" r="1.55" fill="#66c2a5" stroke="#3a3a5a" stroke-width="0.4" />
<circle cx="565.30" cy="621.90" r="1.55" fill="#66c2a5" stroke="#3a3a5a" stroke-width="0.4" />
<circle cx="568.00" cy="621.90" r="1.55" fill="#bce4a0" stroke="#3a3a5a" stroke-width="0.4" />
<circle cx="570.70" cy="621.90" r="1.55" fill="#378dba" stroke="#3a3a5a" stroke-width="0.4" />
<circle cx="573.40" cy="621.90" r="1.55" fill="#66c2a5" stroke="#3a3a5a" stroke-width="0.4" />
<circle cx="576.10" cy="621.90" r="1.55" fill="#bce4a0" stroke="#3a3a5a" stroke-width="0.4" />
<circle cx="578.80" cy="621.90" r="1.55" fill="#4371b2" stroke="#3a3a5a" stroke-width="0.4" />
<circle cx="581.50" cy="621.90" r="1.55" fill="#66c2a5" stroke="#3a3a5a" stroke-width="0.4" />
<circle cx="584.20" cy="621.90" r="1.55" fill="#378dba" stroke="#3a3a5a" stroke-width="0.4" />
<circle cx="586.90" cy="621.90" r="1.55" fill="#bce4a0" stroke="#3a3a5a" stroke-width="0.4" />
<circle cx="589.60" cy="621.90" r="1.55" fill="#9dd7a4" stroke="#3a3a5a" stroke-width="0.4" />
<circle cx="592.30" cy="621.90" r="1.55" fill="#66c2a5" stroke="#3a3a5a" stroke-width="0.4" />
<circle cx="595.00" cy="621.90" r="1.55" fill="#4ca5b1" stroke="#3a3a5a" stroke-width="0.4" />
<circle cx="597.70" cy="621.90" r="1.55" fill="#66c2a5" stroke="#3a3a5a" stroke-width="0.4" />
<circle cx="600.40" cy="621.90" r="1.55" fill="#f2faab" stroke="#3a3a5a" stroke-width="0.4" />
<rect x="641.30" y="441.40" width="8.80" height="188.40" fill="url(#cb2)" stroke="none" stroke-width="0" fill-opacity="0.85"/>
<rect x="641.50" y="441.50" width="9.00" height="189.00" fill="none" stroke="#222" stroke-width="1" />
<line x1="650.10" y1="629.80" x2="653.10" y2="629.80" stroke="#222" stroke-width="0.8" />
<text x="656.50" y="632.90" font-family="Liberation Sans, sans-serif" font-size="8.8" text-anchor="start" fill="#1a1a1a" font-weight="normal" >0</text>
<line x1="650.10" y1="592.12" x2="653.10" y2="592.12" stroke="#222" stroke-width="0.8" />
<text x="656.50" y="595.22" font-family="Liberation Sans, sans-serif" font-size="8.8" text-anchor="start" fill="#1a1a1a" font-weight="normal" >2</text>
<line x1="650.10" y1="554.44" x2="653.10" y2="554.44" stroke="#222" stroke-width="0.8" />
<text x="656.50" y="557.54" font-family="Liberation Sans, sans-serif" font-size="8.8" text-anchor="start" fill="#1a1a1a" font-weight="normal" >4</text>
<line x1="650.10" y1="516.76" x2="653.10" y2="516.76" stroke="#222" stroke-width="0.8" />
<text x="656.50" y="519.86" font-family="Liberation Sans, sans-serif" font-size="8.8" text-anchor="start" fill="#1a1a1a" font-weight="normal" >6</text>
<line x1="650.10" y1="479.08" x2="653.10" y2="479.08" stroke="#222" stroke-width="0.8" />
<text x="656.50" y="482.18" font-family="Liberation Sans, sans-serif" font-size="8.8" text-anchor="start" fill="#1a1a1a" font-weight="normal" >8</text>
<line x1="650.10" y1="441.40" x2="653.10" y2="441.40" stroke="#222" stroke-width="0.8" />
<text x="656.50" y="444.50" font-family="Liberation Sans, sans-serif" font-size="8.8" text-anchor="start" fill="#1a1a1a" font-weight="normal" >10</text>
<text x="678.3" y="536.6" font-family="Liberation Sans, sans-serif" font-size="10.2" text-anchor="middle" dominant-baseline="central" fill="#1a1a1a" transform="rotate(90 678.3 536.6)">Predicted SBP Score</text>
</svg></body></html>
